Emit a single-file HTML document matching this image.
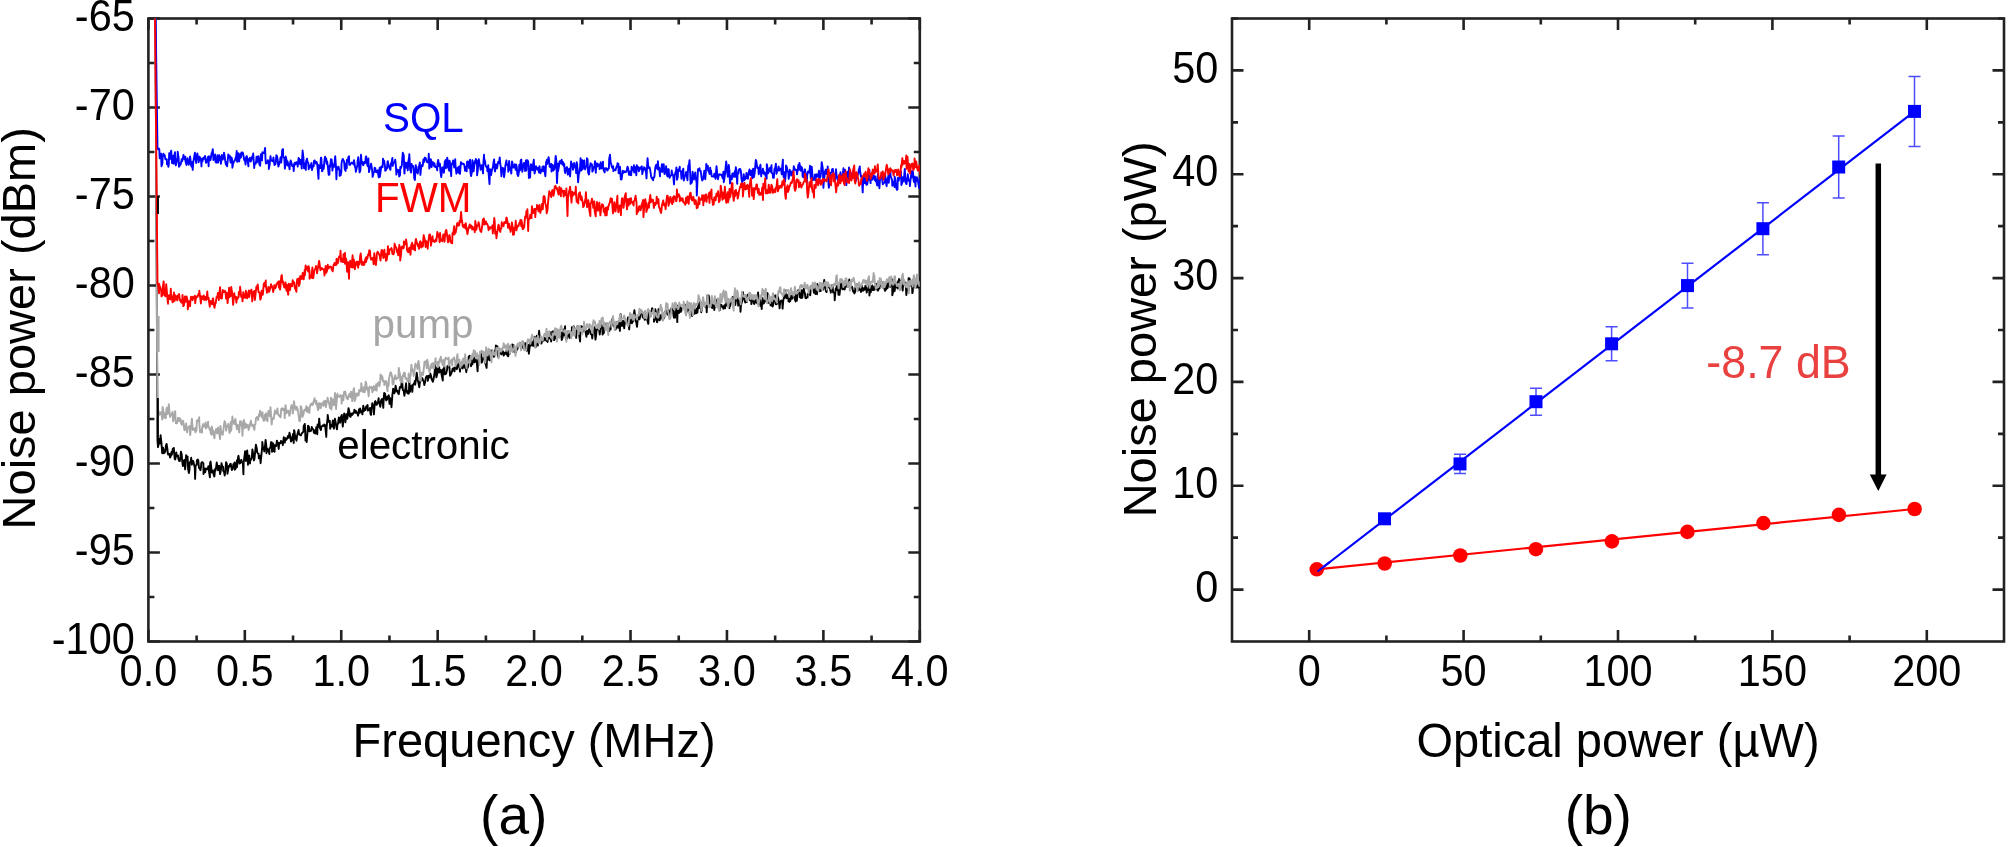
<!DOCTYPE html>
<html><head><meta charset="utf-8"><title>Noise power figure</title>
<style>html,body{margin:0;padding:0;background:#fff;}svg{display:block;filter:blur(0.45px);}text{font-family:'Liberation Sans',Arial,Helvetica,sans-serif;}</style></head>
<body><svg width="2008" height="847" viewBox="0 0 2008 847" style="font-family:'Liberation Sans',Arial,Helvetica,sans-serif">
<rect width="2008" height="847" fill="#fff"/>
<rect x="148.4" y="18.5" width="771.40" height="623.00" fill="none" stroke="#222" stroke-width="2.6"/>
<path d="M148.40 641.50v-11.5M148.40 18.50v11.5M244.82 641.50v-11.5M244.82 18.50v11.5M341.25 641.50v-11.5M341.25 18.50v11.5M437.67 641.50v-11.5M437.67 18.50v11.5M534.10 641.50v-11.5M534.10 18.50v11.5M630.52 641.50v-11.5M630.52 18.50v11.5M726.95 641.50v-11.5M726.95 18.50v11.5M823.38 641.50v-11.5M823.38 18.50v11.5M919.80 641.50v-11.5M919.80 18.50v11.5" stroke="#222" stroke-width="2.6" fill="none"/>
<path d="M196.61 641.50v-6M196.61 18.50v6M293.04 641.50v-6M293.04 18.50v6M389.46 641.50v-6M389.46 18.50v6M485.89 641.50v-6M485.89 18.50v6M582.31 641.50v-6M582.31 18.50v6M678.74 641.50v-6M678.74 18.50v6M775.16 641.50v-6M775.16 18.50v6M871.59 641.50v-6M871.59 18.50v6" stroke="#222" stroke-width="2.6" fill="none"/>
<path d="M148.40 18.50h11.5M919.80 18.50h-11.5M148.40 107.50h11.5M919.80 107.50h-11.5M148.40 196.50h11.5M919.80 196.50h-11.5M148.40 285.50h11.5M919.80 285.50h-11.5M148.40 374.50h11.5M919.80 374.50h-11.5M148.40 463.50h11.5M919.80 463.50h-11.5M148.40 552.50h11.5M919.80 552.50h-11.5M148.40 641.50h11.5M919.80 641.50h-11.5" stroke="#222" stroke-width="2.6" fill="none"/>
<path d="M148.40 63.00h6M919.80 63.00h-6M148.40 152.00h6M919.80 152.00h-6M148.40 241.00h6M919.80 241.00h-6M148.40 330.00h6M919.80 330.00h-6M148.40 419.00h6M919.80 419.00h-6M148.40 508.00h6M919.80 508.00h-6M148.40 597.00h6M919.80 597.00h-6" stroke="#222" stroke-width="2.6" fill="none"/>
<text transform="translate(134.80 30.50) scale(1 1.065)" font-size="41.5" text-anchor="end" fill="#000" >-65</text>
<text transform="translate(134.80 119.50) scale(1 1.065)" font-size="41.5" text-anchor="end" fill="#000" >-70</text>
<text transform="translate(134.80 208.50) scale(1 1.065)" font-size="41.5" text-anchor="end" fill="#000" >-75</text>
<text transform="translate(134.80 297.50) scale(1 1.065)" font-size="41.5" text-anchor="end" fill="#000" >-80</text>
<text transform="translate(134.80 386.50) scale(1 1.065)" font-size="41.5" text-anchor="end" fill="#000" >-85</text>
<text transform="translate(134.80 475.50) scale(1 1.065)" font-size="41.5" text-anchor="end" fill="#000" >-90</text>
<text transform="translate(134.80 564.50) scale(1 1.065)" font-size="41.5" text-anchor="end" fill="#000" >-95</text>
<text transform="translate(134.80 653.50) scale(1 1.065)" font-size="41.5" text-anchor="end" fill="#000" >-100</text>
<text transform="translate(148.40 685.80) scale(1 1.065)" font-size="41.5" text-anchor="middle" fill="#000" >0.0</text>
<text transform="translate(244.82 685.80) scale(1 1.065)" font-size="41.5" text-anchor="middle" fill="#000" >0.5</text>
<text transform="translate(341.25 685.80) scale(1 1.065)" font-size="41.5" text-anchor="middle" fill="#000" >1.0</text>
<text transform="translate(437.67 685.80) scale(1 1.065)" font-size="41.5" text-anchor="middle" fill="#000" >1.5</text>
<text transform="translate(534.10 685.80) scale(1 1.065)" font-size="41.5" text-anchor="middle" fill="#000" >2.0</text>
<text transform="translate(630.52 685.80) scale(1 1.065)" font-size="41.5" text-anchor="middle" fill="#000" >2.5</text>
<text transform="translate(726.95 685.80) scale(1 1.065)" font-size="41.5" text-anchor="middle" fill="#000" >3.0</text>
<text transform="translate(823.38 685.80) scale(1 1.065)" font-size="41.5" text-anchor="middle" fill="#000" >3.5</text>
<text transform="translate(919.80 685.80) scale(1 1.065)" font-size="41.5" text-anchor="middle" fill="#000" >4.0</text>
<text transform="translate(534.10 757.40) scale(1 1.02)" font-size="47" text-anchor="middle" fill="#000" >Frequency (MHz)</text>
<text x="513.70" y="834.00" font-size="55" text-anchor="middle" fill="#000" >(a)</text>
<text transform="translate(35.4,328.3) rotate(-90)" font-size="47" text-anchor="middle">Noise power (dBm)</text>
<clipPath id="clipa"><rect x="148.4" y="18.5" width="771.4" height="623.0"/></clipPath>
<path d="M155.3 -5.0 L157.5 440.7 L158.0 447.1 L158.9 442.7 L159.1 439.0 L160.0 443.6 L160.6 435.2 L160.9 439.0 L161.4 442.1 L162.2 453.3 L163.0 447.6 L163.5 449.6 L163.9 453.2 L164.7 452.6 L165.4 451.2 L165.9 445.6 L166.6 443.9 L167.4 448.9 L167.8 453.4 L168.2 454.6 L168.7 453.6 L169.4 453.9 L170.1 457.5 L170.9 455.9 L171.5 451.9 L171.8 454.9 L172.8 448.6 L173.1 452.4 L173.8 447.9 L174.1 451.9 L174.7 458.9 L175.3 459.4 L176.3 452.5 L176.8 456.4 L177.5 455.4 L178.0 455.5 L178.4 458.9 L179.1 460.8 L179.8 461.1 L180.5 456.4 L180.9 451.6 L181.7 454.3 L182.2 461.2 L182.9 466.1 L183.3 461.3 L184.0 460.9 L184.4 459.8 L185.1 469.4 L185.5 466.0 L186.1 455.1 L186.6 458.0 L187.6 456.5 L188.1 469.1 L188.9 473.0 L189.5 469.8 L189.8 462.5 L190.8 461.4 L191.2 457.8 L191.9 464.7 L192.2 460.8 L192.7 461.3 L193.3 461.1 L193.9 463.8 L194.8 468.0 L195.1 478.9 L195.6 465.9 L196.7 464.6 L196.9 460.3 L197.7 459.5 L198.3 460.4 L199.0 468.0 L199.5 468.0 L200.4 470.2 L200.9 467.9 L201.3 463.0 L202.0 462.1 L202.5 462.2 L203.4 463.4 L203.5 474.0 L204.4 469.7 L204.9 468.4 L205.2 472.3 L206.0 468.7 L207.0 468.6 L207.5 469.3 L207.6 469.2 L208.4 466.2 L208.8 470.4 L209.9 477.3 L210.1 463.1 L210.6 461.6 L211.8 472.6 L212.1 471.3 L212.6 471.8 L213.0 470.5 L213.8 475.4 L214.4 476.5 L215.1 469.0 L215.4 470.7 L216.1 467.6 L216.7 462.5 L217.5 467.0 L218.0 470.3 L218.8 466.1 L219.2 465.8 L220.1 474.1 L220.8 470.7 L220.8 470.9 L221.5 463.3 L222.3 466.4 L223.1 466.8 L223.2 471.0 L223.9 471.3 L224.7 475.6 L225.4 469.7 L226.1 462.3 L226.7 463.4 L227.3 468.8 L227.4 473.7 L228.6 467.4 L229.0 465.8 L229.3 466.6 L230.0 464.3 L230.8 463.8 L231.2 466.6 L231.9 470.1 L232.7 468.8 L233.3 464.3 L233.7 467.5 L234.5 462.4 L234.8 469.7 L235.8 468.5 L236.2 464.4 L237.0 460.3 L237.0 467.1 L238.1 457.2 L238.5 455.8 L239.2 460.9 L239.5 463.5 L240.3 463.2 L240.8 461.5 L241.3 459.8 L241.8 462.0 L242.9 463.1 L243.4 474.3 L243.7 462.1 L244.4 456.9 L245.1 451.3 L245.9 461.0 L246.1 456.2 L247.2 450.5 L247.8 458.1 L247.9 464.8 L248.8 456.3 L249.2 455.5 L250.0 463.5 L250.3 459.7 L251.1 459.6 L251.8 457.8 L252.4 449.4 L253.0 452.5 L253.7 455.6 L253.9 460.4 L254.5 458.7 L255.2 451.5 L255.9 444.7 L256.8 448.7 L257.2 452.5 L257.8 453.3 L258.6 453.7 L258.8 458.3 L259.4 456.2 L260.1 455.7 L260.6 463.2 L261.4 454.8 L262.2 446.9 L262.3 441.9 L263.1 448.8 L263.8 447.8 L264.3 451.5 L265.1 445.0 L265.6 439.9 L266.3 445.8 L266.5 453.2 L267.1 448.5 L267.6 451.3 L268.7 449.8 L269.4 454.1 L269.4 448.3 L270.5 447.6 L271.0 442.1 L271.7 442.1 L272.0 451.8 L272.8 451.2 L273.1 443.4 L273.6 446.6 L274.6 451.8 L274.8 445.3 L275.8 445.7 L276.2 446.1 L276.9 440.6 L277.7 443.2 L277.9 442.9 L278.7 449.0 L279.2 442.9 L279.7 443.2 L280.5 443.4 L280.9 440.9 L281.9 441.8 L282.4 442.2 L282.8 445.2 L283.8 437.2 L284.0 440.2 L284.8 442.6 L285.4 438.2 L285.8 438.1 L286.2 439.9 L287.3 438.3 L288.0 435.9 L288.1 437.6 L288.7 437.8 L289.5 432.6 L290.2 436.0 L291.0 441.6 L291.6 437.9 L292.2 440.3 L292.3 437.4 L293.2 433.8 L293.7 443.0 L294.1 430.1 L294.6 432.0 L295.3 438.7 L296.0 436.7 L296.5 440.7 L297.1 435.6 L297.6 433.5 L298.6 430.0 L299.1 434.2 L299.5 434.7 L300.3 435.1 L300.9 435.4 L301.6 433.7 L302.4 432.7 L302.6 432.6 L303.4 431.6 L303.7 426.2 L304.8 423.9 L305.2 431.4 L305.5 440.6 L306.2 438.8 L306.7 442.1 L307.3 434.6 L308.0 425.7 L308.9 426.4 L309.3 431.2 L309.8 431.3 L310.5 430.4 L311.0 430.7 L311.8 426.9 L312.0 428.2 L312.8 428.7 L313.4 429.6 L313.9 432.8 L314.8 430.6 L315.1 433.5 L315.8 433.3 L316.2 427.2 L317.3 434.2 L317.6 424.5 L318.4 425.2 L318.7 426.7 L319.2 418.6 L320.0 428.0 L320.9 430.0 L321.5 426.5 L321.8 426.5 L322.7 425.4 L322.8 425.4 L323.7 426.0 L324.2 424.5 L324.9 425.0 L325.3 427.2 L326.3 436.9 L326.6 427.1 L327.6 417.8 L327.7 414.9 L328.5 420.7 L329.1 422.2 L329.8 420.9 L330.2 428.7 L330.9 425.0 L331.2 426.2 L332.0 426.6 L332.8 420.5 L333.1 421.6 L333.9 428.7 L334.3 423.1 L334.9 418.8 L335.5 421.4 L336.5 427.7 L337.0 429.4 L337.4 424.9 L338.0 423.8 L338.8 417.5 L339.4 419.4 L340.1 422.7 L340.8 417.0 L341.1 417.0 L341.8 414.9 L342.3 421.9 L342.8 426.6 L343.5 417.8 L344.2 413.4 L344.7 414.2 L345.4 422.3 L345.9 417.2 L346.8 413.9 L347.3 418.9 L347.5 417.4 L348.5 408.1 L349.2 410.9 L349.7 416.0 L350.0 416.5 L350.6 416.8 L351.1 413.5 L351.6 415.0 L352.5 414.8 L353.3 412.6 L353.9 412.7 L354.4 409.6 L355.1 412.8 L355.6 412.8 L355.9 410.9 L356.9 412.9 L357.2 412.6 L358.1 415.7 L358.4 413.8 L358.9 409.5 L359.8 412.9 L360.1 408.5 L361.1 411.8 L361.4 411.2 L362.3 413.5 L362.4 414.3 L363.3 405.7 L364.0 411.0 L364.3 409.3 L365.2 408.3 L365.5 410.1 L366.2 406.4 L366.8 406.3 L367.6 405.0 L367.9 410.6 L368.5 409.3 L369.5 410.0 L370.0 407.9 L370.5 413.9 L371.0 414.9 L371.8 407.5 L372.3 403.3 L372.8 405.0 L373.7 408.4 L373.9 414.4 L374.9 401.6 L375.4 401.1 L376.0 402.6 L376.6 404.9 L377.2 404.0 L377.9 402.6 L378.6 398.3 L378.8 400.7 L379.3 402.2 L380.3 406.8 L380.5 405.7 L381.1 400.3 L382.1 398.9 L382.8 403.2 L383.3 407.8 L383.7 398.7 L384.2 393.0 L385.2 394.0 L385.6 398.8 L386.2 400.4 L386.4 397.2 L387.1 399.5 L387.6 396.7 L388.7 395.2 L388.9 396.7 L389.5 403.9 L390.3 398.3 L390.7 400.9 L391.5 407.2 L392.4 394.6 L392.9 391.5 L393.1 388.8 L394.1 389.5 L394.4 393.3 L395.1 391.0 L395.6 385.6 L396.6 390.7 L396.8 391.6 L397.6 391.1 L398.2 393.6 L398.8 394.2 L399.1 391.6 L399.9 387.0 L400.8 387.4 L401.1 387.5 L401.5 383.5 L402.0 379.9 L402.8 390.0 L403.6 390.2 L403.8 391.5 L404.4 395.9 L405.4 389.0 L406.1 383.3 L406.5 390.3 L407.2 392.9 L407.6 391.2 L408.2 393.8 L408.9 393.4 L409.3 380.8 L410.1 391.6 L410.5 386.3 L411.6 385.6 L412.0 387.0 L412.3 391.9 L412.9 385.1 L413.9 383.5 L414.2 383.8 L414.8 381.0 L415.2 384.7 L416.2 377.5 L416.7 372.6 L417.5 377.9 L417.7 379.9 L418.7 384.1 L419.3 387.2 L419.9 381.8 L420.4 381.6 L420.9 377.0 L421.2 377.4 L422.2 380.1 L422.4 378.3 L423.1 380.5 L423.8 381.4 L424.3 385.1 L425.1 382.3 L425.9 377.4 L426.1 377.2 L427.1 375.9 L427.8 377.7 L427.8 380.9 L428.7 375.6 L429.4 376.9 L430.0 377.4 L430.4 373.8 L431.3 376.8 L431.6 379.2 L432.1 380.2 L432.9 381.7 L433.6 378.8 L434.3 375.0 L434.8 370.0 L435.0 363.9 L435.9 371.7 L436.4 377.3 L437.2 374.2 L437.4 367.7 L438.4 371.7 L439.1 372.6 L439.2 367.1 L439.8 371.8 L440.9 369.9 L441.5 374.1 L441.7 375.2 L442.8 380.5 L443.0 369.3 L443.7 370.7 L444.3 366.0 L444.8 374.4 L445.7 374.0 L446.2 373.4 L447.0 370.1 L447.4 366.3 L448.2 366.2 L448.5 365.7 L449.1 363.8 L449.7 370.5 L450.0 375.8 L451.1 374.0 L451.3 373.3 L452.4 370.4 L452.4 369.2 L453.4 368.1 L454.1 369.9 L454.5 371.4 L454.9 367.9 L455.9 365.9 L456.2 365.8 L456.8 369.2 L457.6 366.9 L458.4 363.3 L458.5 363.5 L459.3 365.0 L460.0 371.6 L460.4 364.5 L461.4 362.5 L461.8 365.4 L462.0 368.0 L462.7 368.4 L463.3 366.7 L464.1 364.9 L464.9 366.3 L465.1 368.2 L465.7 368.4 L466.3 372.2 L467.1 366.1 L467.7 367.7 L468.3 365.7 L468.7 356.7 L469.7 355.8 L470.1 360.5 L470.9 356.4 L471.0 366.2 L471.9 362.8 L472.4 364.3 L473.3 359.4 L473.8 361.1 L474.3 357.5 L474.7 362.3 L475.6 361.0 L476.3 359.1 L476.9 363.3 L477.6 371.3 L478.0 362.9 L478.4 362.8 L478.9 356.0 L479.9 357.2 L480.5 357.5 L481.0 353.9 L481.7 362.6 L482.1 362.0 L482.9 359.4 L483.4 358.6 L483.7 355.8 L484.6 357.4 L485.2 363.2 L485.5 363.5 L486.6 367.9 L487.1 356.6 L487.3 355.2 L487.9 359.9 L488.4 352.1 L489.6 354.2 L489.7 360.2 L490.7 360.1 L491.1 350.5 L491.4 354.0 L492.1 353.9 L492.8 355.5 L493.7 353.3 L494.0 356.9 L494.5 352.8 L495.6 349.4 L495.9 345.4 L496.2 350.0 L497.4 346.3 L497.8 353.9 L498.3 357.1 L498.7 351.0 L499.6 353.9 L499.9 351.5 L501.0 352.8 L501.5 354.4 L502.0 352.3 L502.7 351.0 L503.3 352.1 L503.7 355.6 L504.5 353.9 L504.7 352.8 L505.6 353.8 L506.3 351.7 L506.5 350.3 L507.1 354.9 L508.2 356.3 L508.7 352.4 L508.9 346.5 L509.8 353.6 L510.1 350.6 L510.7 350.7 L511.8 345.8 L512.2 344.5 L512.9 351.6 L513.2 344.9 L514.1 346.7 L514.6 349.6 L515.0 352.4 L515.7 349.9 L516.1 352.1 L517.0 346.2 L517.3 349.4 L518.1 346.3 L518.9 344.6 L519.4 344.6 L520.0 343.1 L520.3 344.2 L521.3 344.7 L521.8 348.4 L522.6 344.3 L523.2 342.1 L523.8 343.6 L524.1 348.8 L524.9 344.1 L525.1 348.3 L525.6 343.2 L526.7 350.7 L527.2 350.0 L528.0 344.6 L528.2 347.8 L528.9 353.7 L529.7 346.3 L530.2 341.8 L530.9 344.8 L531.2 345.5 L532.1 342.2 L532.7 344.7 L533.3 346.0 L533.6 340.9 L534.5 336.7 L534.8 345.1 L535.6 347.3 L536.4 341.9 L536.8 335.8 L537.4 344.0 L537.8 345.6 L538.5 337.0 L539.1 330.8 L539.8 337.2 L540.3 341.5 L540.8 342.0 L541.3 343.6 L542.4 340.7 L542.8 340.4 L543.1 340.8 L543.8 340.6 L544.6 337.7 L544.9 339.1 L545.9 340.1 L546.3 340.7 L547.0 336.8 L547.6 342.0 L547.9 337.5 L549.0 337.8 L549.5 338.6 L549.7 331.8 L550.5 335.9 L551.1 341.5 L551.6 339.6 L552.2 331.6 L552.8 331.5 L553.6 331.4 L554.1 340.1 L554.5 334.5 L555.1 338.8 L555.7 336.9 L556.6 337.0 L557.1 337.5 L557.6 333.6 L558.3 332.3 L559.0 331.2 L559.3 334.7 L559.8 336.2 L561.0 335.2 L561.1 332.5 L561.7 340.0 L562.6 337.6 L563.4 329.6 L563.5 335.4 L564.2 332.8 L565.1 326.2 L565.3 334.6 L566.0 339.1 L566.8 338.7 L567.5 334.9 L567.7 331.7 L568.4 331.4 L569.2 337.3 L569.7 337.9 L570.3 333.6 L571.2 331.2 L571.8 334.3 L571.9 327.2 L572.6 333.3 L573.2 331.8 L573.7 326.1 L574.3 332.4 L575.1 331.5 L576.0 334.2 L576.2 337.9 L576.7 328.7 L577.6 326.0 L578.0 330.8 L578.4 327.7 L579.1 334.5 L580.1 341.5 L580.3 334.0 L581.2 326.3 L581.7 329.7 L582.5 332.1 L582.9 326.8 L583.3 330.8 L583.9 327.7 L584.5 328.2 L585.1 328.0 L585.8 333.5 L586.4 336.8 L587.2 331.0 L587.7 332.2 L588.0 334.0 L588.9 328.8 L589.8 330.4 L590.4 332.3 L590.6 333.8 L591.1 334.3 L591.8 334.9 L592.3 338.5 L593.0 330.9 L594.0 332.3 L594.5 327.2 L594.9 332.6 L595.5 339.6 L596.2 334.6 L596.8 326.4 L597.4 327.1 L598.0 329.5 L598.6 325.2 L598.9 328.4 L599.8 334.5 L600.4 326.4 L600.7 323.3 L601.3 324.1 L602.2 327.1 L602.6 334.6 L603.5 331.5 L603.8 333.2 L604.6 324.5 L605.2 324.6 L605.5 327.6 L606.2 323.6 L606.8 326.5 L607.4 329.0 L607.9 325.1 L608.5 327.4 L609.3 331.0 L609.7 328.9 L610.6 329.3 L611.0 325.8 L611.7 322.1 L612.1 319.2 L613.1 321.6 L613.2 325.6 L614.4 326.4 L614.8 327.7 L615.6 329.4 L615.9 328.7 L616.4 322.6 L617.0 322.1 L618.0 327.9 L618.3 325.7 L618.8 322.1 L619.3 322.2 L619.9 330.9 L620.6 314.1 L621.3 324.5 L622.1 326.0 L622.3 322.4 L623.1 320.8 L623.5 323.2 L624.2 328.4 L624.9 321.2 L625.7 322.0 L625.9 322.8 L626.5 322.0 L627.4 322.4 L627.9 317.5 L628.3 317.5 L629.2 329.4 L630.0 315.6 L630.4 314.1 L631.2 322.9 L631.6 322.5 L632.0 323.2 L632.9 321.1 L633.3 320.8 L633.7 315.3 L634.4 310.1 L635.4 318.4 L635.8 321.6 L636.2 321.9 L637.0 326.8 L637.6 320.6 L637.9 317.9 L638.7 317.3 L639.5 319.3 L639.7 318.6 L640.5 315.2 L640.9 310.4 L641.6 313.2 L642.5 312.2 L642.8 317.6 L643.7 317.7 L644.2 317.7 L644.8 319.9 L645.1 317.6 L645.9 318.9 L646.7 313.6 L647.2 315.3 L647.4 320.4 L648.3 323.9 L648.9 312.4 L649.5 315.2 L650.0 315.9 L650.9 316.0 L651.3 311.9 L652.1 308.3 L652.8 311.0 L653.3 313.3 L653.9 311.2 L654.0 321.8 L654.6 319.9 L655.3 309.3 L656.1 313.3 L656.6 319.9 L657.1 322.3 L658.2 318.4 L658.5 309.1 L658.9 313.2 L659.7 320.4 L660.6 316.4 L661.0 315.0 L661.8 316.5 L661.9 317.8 L662.8 320.3 L663.2 316.1 L663.8 318.4 L664.5 312.9 L665.1 311.6 L665.9 313.9 L666.2 310.7 L666.9 312.7 L667.5 312.8 L668.2 315.1 L668.7 310.1 L669.0 316.3 L670.1 312.2 L670.6 312.0 L670.9 308.6 L671.7 310.2 L672.5 308.8 L673.1 309.1 L673.4 314.7 L673.9 317.7 L675.0 317.6 L675.4 308.2 L676.0 304.1 L676.4 305.3 L677.3 322.1 L677.5 312.4 L678.5 305.5 L679.1 313.0 L679.5 309.8 L680.0 305.7 L680.8 311.9 L681.2 311.0 L681.8 308.2 L682.4 308.6 L683.3 307.8 L683.5 305.2 L684.3 306.6 L684.9 304.7 L685.8 310.3 L685.9 308.7 L686.7 312.0 L687.1 306.2 L688.2 310.3 L688.3 307.6 L689.3 305.0 L689.8 315.1 L690.1 312.5 L690.8 310.0 L691.4 308.1 L692.1 316.0 L692.9 311.4 L693.3 311.3 L694.2 307.3 L694.7 313.7 L694.9 309.9 L695.5 311.9 L696.4 313.3 L696.8 308.5 L697.4 312.6 L698.4 303.9 L698.7 306.8 L699.2 307.9 L699.9 302.2 L700.5 305.0 L701.3 312.2 L701.6 310.4 L702.3 302.4 L702.7 302.6 L703.7 303.6 L704.4 303.3 L704.4 305.7 L705.5 306.9 L706.2 303.8 L706.7 312.2 L707.3 301.6 L707.5 295.1 L708.6 297.0 L708.8 295.7 L709.7 307.0 L710.3 301.5 L710.8 303.1 L711.6 306.2 L712.2 308.0 L712.5 306.1 L713.1 303.4 L713.9 306.2 L714.3 310.0 L715.1 305.2 L715.3 306.2 L716.0 304.9 L716.6 301.5 L717.2 299.4 L717.9 301.7 L718.3 301.9 L718.9 303.9 L719.6 310.3 L720.1 304.4 L720.8 304.7 L721.4 304.9 L722.4 307.3 L722.7 306.9 L723.4 308.7 L724.2 305.5 L724.5 306.7 L725.0 308.3 L725.7 304.0 L726.5 305.4 L726.8 303.3 L727.6 299.1 L728.1 299.3 L728.7 305.8 L729.4 308.2 L729.9 304.3 L730.3 306.0 L730.9 300.2 L731.4 302.5 L732.5 297.4 L733.0 296.7 L733.8 300.8 L734.0 300.9 L734.7 300.2 L735.3 305.0 L735.7 301.7 L736.5 296.9 L737.2 296.9 L737.7 299.7 L738.2 305.7 L738.7 302.3 L739.2 300.2 L740.2 304.7 L740.5 311.7 L741.0 305.1 L742.2 300.9 L742.7 297.2 L743.0 292.3 L743.7 298.0 L744.1 298.2 L745.2 302.6 L745.4 302.6 L746.3 299.6 L746.8 302.1 L747.0 298.1 L747.6 294.7 L748.5 296.8 L748.8 298.3 L750.0 300.3 L750.6 296.6 L751.0 297.7 L751.4 304.1 L751.9 298.8 L752.5 296.3 L753.3 299.5 L753.7 303.0 L754.3 304.0 L755.2 301.8 L755.9 299.7 L756.4 300.7 L757.2 303.4 L757.7 296.9 L758.1 292.4 L758.6 304.2 L759.1 297.6 L760.1 300.8 L760.5 305.9 L761.3 304.0 L761.7 309.0 L762.5 297.9 L763.0 301.9 L763.5 303.6 L764.2 302.7 L764.8 299.2 L765.0 301.4 L766.1 301.0 L766.3 300.4 L767.1 292.9 L767.7 293.5 L768.5 302.3 L768.7 302.8 L769.6 300.9 L770.3 303.1 L770.6 305.3 L771.3 298.5 L771.8 305.8 L772.7 306.5 L773.3 304.3 L773.7 302.3 L774.0 299.9 L775.2 295.3 L775.6 299.4 L775.9 304.3 L776.8 304.0 L777.3 302.0 L777.7 296.2 L778.4 299.0 L779.2 304.3 L779.6 308.4 L780.1 302.7 L780.6 301.3 L781.4 300.4 L782.2 301.9 L782.6 308.6 L783.2 300.9 L784.1 296.6 L784.6 297.9 L785.4 294.4 L785.9 290.5 L786.6 298.3 L786.9 294.6 L787.7 296.2 L788.4 296.8 L788.4 301.1 L789.3 301.9 L790.0 298.4 L790.3 301.1 L790.8 295.3 L791.7 295.2 L792.0 298.9 L792.7 293.7 L793.2 293.7 L794.2 292.6 L794.4 298.1 L795.6 301.5 L795.9 299.2 L796.4 292.7 L796.9 300.6 L797.6 292.1 L798.2 290.1 L799.1 292.7 L799.5 293.1 L799.8 297.3 L801.0 298.0 L801.6 290.1 L802.2 297.7 L802.4 297.0 L803.1 291.2 L803.8 288.7 L804.1 290.8 L804.9 293.4 L805.4 298.0 L806.3 298.2 L806.4 297.5 L807.6 297.4 L807.6 294.2 L808.8 293.3 L809.1 292.0 L809.5 290.7 L810.2 295.4 L811.2 286.0 L811.3 289.4 L812.3 289.1 L812.9 285.8 L813.2 287.8 L814.0 292.8 L814.5 291.4 L815.4 288.1 L815.5 294.0 L816.2 293.3 L817.0 294.2 L817.3 284.0 L818.0 286.8 L818.9 288.9 L819.4 291.2 L819.9 287.1 L820.7 291.1 L820.9 284.5 L821.9 283.9 L822.2 286.3 L823.2 289.6 L823.6 285.5 L824.2 279.9 L824.8 287.6 L825.5 287.6 L825.8 291.0 L826.6 292.1 L826.9 289.4 L827.8 287.1 L828.6 286.8 L829.2 287.1 L829.3 286.0 L830.3 290.0 L830.8 292.7 L831.3 285.9 L831.8 285.3 L832.5 285.1 L833.1 292.5 L834.0 292.4 L834.5 293.6 L834.7 300.2 L835.7 288.7 L836.2 288.2 L837.0 285.8 L837.2 290.1 L838.0 289.3 L838.5 294.9 L838.9 292.8 L839.5 294.8 L840.5 285.7 L840.6 288.5 L841.4 279.9 L842.1 284.3 L842.6 289.4 L843.3 288.4 L843.7 288.8 L844.7 289.5 L845.2 286.5 L845.8 286.6 L846.6 284.7 L846.7 283.0 L847.5 286.9 L847.9 286.8 L848.6 285.2 L849.3 279.5 L850.1 290.0 L850.3 286.7 L851.3 287.3 L851.8 286.6 L852.3 287.3 L853.1 291.7 L853.5 291.1 L854.4 293.4 L855.0 292.3 L855.3 287.9 L856.2 286.4 L856.7 284.1 L857.1 286.8 L857.8 290.5 L858.5 290.1 L859.2 285.9 L859.7 288.5 L860.4 290.3 L860.6 289.2 L861.0 292.0 L861.7 285.4 L862.4 290.4 L862.9 290.8 L863.7 288.1 L864.1 289.7 L864.8 289.7 L865.4 285.7 L866.3 288.1 L866.7 292.6 L867.1 290.5 L868.1 289.7 L868.8 286.2 L869.2 285.6 L869.4 295.6 L870.5 286.7 L870.7 292.4 L871.7 287.0 L872.3 285.4 L872.8 289.4 L873.0 290.3 L873.8 286.9 L874.3 289.9 L875.3 288.7 L875.4 286.5 L876.3 283.8 L877.0 289.6 L877.7 289.3 L878.1 290.7 L878.5 288.3 L879.5 288.5 L879.8 284.2 L880.5 283.7 L880.8 285.7 L881.6 284.0 L882.6 282.9 L883.0 282.2 L883.6 284.9 L884.1 287.7 L884.5 289.0 L885.1 290.9 L886.2 286.1 L886.3 289.5 L887.2 282.1 L887.6 288.0 L888.4 283.6 L888.7 280.1 L889.3 285.0 L890.1 286.8 L890.6 283.4 L891.5 280.0 L892.2 279.4 L892.3 295.2 L892.9 293.1 L893.5 284.9 L894.2 291.2 L894.7 290.9 L895.6 282.2 L896.0 287.1 L896.7 286.6 L897.5 288.4 L898.1 281.2 L898.3 284.3 L899.0 279.0 L899.7 289.6 L900.3 281.4 L900.6 280.6 L901.6 282.9 L902.3 287.0 L902.7 290.6 L903.1 284.7 L904.0 283.5 L904.2 281.6 L904.8 283.4 L905.7 282.8 L906.3 295.0 L907.2 289.1 L907.4 290.8 L907.9 285.1 L908.6 278.1 L909.5 278.4 L910.0 280.6 L910.2 282.0 L910.9 282.9 L912.0 282.5 L912.3 293.1 L912.8 291.9 L913.2 279.9 L913.9 285.2 L914.4 287.1 L915.5 282.6 L916.2 285.1 L916.5 287.5 L917.3 283.7 L917.5 282.3 L918.2 287.7 L919.0 284.9 L919.6 287.4 L920.2 281.8 L920.5 276.0" fill="none" stroke="#000" stroke-width="1.9" stroke-linejoin="round" clip-path="url(#clipa)"/>
<path d="M155.3 -5.0 L157.5 416.9 L158.4 413.0 L158.5 410.7 L159.6 414.9 L159.8 413.4 L160.5 413.3 L161.3 412.0 L161.6 414.1 L162.3 419.6 L162.6 406.9 L163.7 412.5 L164.1 417.7 L164.6 416.4 L165.5 413.2 L165.8 418.2 L166.5 408.7 L166.9 407.7 L167.6 414.0 L168.1 412.8 L168.8 404.3 L169.7 414.5 L170.0 416.9 L170.7 415.7 L171.6 413.9 L172.2 412.9 L172.6 411.8 L173.1 421.3 L173.6 418.9 L174.1 417.7 L175.2 411.2 L175.5 418.3 L175.9 423.3 L176.8 423.4 L177.5 422.0 L178.0 418.0 L178.8 417.8 L178.8 419.4 L179.7 421.0 L180.3 418.7 L180.6 420.5 L181.6 424.8 L182.3 421.0 L182.8 421.6 L183.2 420.9 L184.1 428.2 L184.5 430.4 L185.1 428.8 L185.9 424.5 L186.1 423.5 L187.1 432.3 L187.6 427.4 L188.3 427.3 L188.5 427.4 L189.5 426.1 L189.7 430.0 L190.2 435.1 L191.3 424.5 L191.9 418.8 L192.5 426.6 L192.9 430.0 L193.4 429.9 L193.8 428.4 L194.8 429.0 L195.4 432.3 L196.1 427.4 L196.4 430.9 L196.9 420.6 L197.8 420.0 L198.5 421.2 L199.2 417.3 L199.3 423.7 L200.1 432.2 L200.9 431.4 L201.3 429.9 L202.0 432.7 L202.2 427.5 L203.2 423.9 L204.0 426.7 L204.5 425.9 L205.1 425.8 L205.6 422.5 L205.9 428.4 L206.9 426.8 L207.1 426.9 L208.1 421.8 L208.2 426.0 L209.3 427.6 L209.5 429.6 L210.2 428.5 L210.8 433.7 L211.6 434.8 L211.9 426.5 L212.6 433.2 L213.0 430.2 L213.8 435.5 L214.5 438.4 L214.9 432.4 L215.8 430.5 L216.2 429.0 L217.0 433.6 L217.6 432.5 L218.1 427.4 L218.9 429.3 L219.4 435.0 L220.1 439.2 L220.4 425.9 L221.1 431.2 L221.5 433.5 L222.6 434.5 L222.7 434.8 L223.4 429.7 L223.8 426.0 L224.6 421.2 L225.5 423.4 L226.0 430.6 L226.3 429.1 L227.0 426.2 L227.7 426.1 L228.4 423.9 L228.9 428.8 L229.6 433.1 L230.3 429.4 L230.8 421.9 L231.2 430.7 L231.9 423.9 L232.4 416.5 L232.9 421.3 L233.5 420.6 L234.2 424.1 L234.8 420.7 L235.4 418.9 L236.1 425.1 L237.0 429.4 L237.5 424.7 L238.1 426.0 L238.7 428.2 L239.2 432.5 L240.0 421.3 L240.4 425.6 L240.9 422.2 L241.2 421.4 L242.1 427.6 L242.5 435.8 L243.1 423.9 L243.9 420.0 L244.7 428.1 L245.0 423.0 L245.9 424.4 L246.3 427.3 L246.7 424.7 L247.8 425.1 L248.0 426.0 L248.6 430.0 L249.5 427.2 L249.7 424.4 L250.6 422.5 L250.9 420.6 L251.6 425.7 L252.1 424.5 L253.1 424.8 L253.4 427.2 L254.4 429.8 L254.8 425.1 L255.4 424.2 L255.9 418.3 L256.4 417.9 L257.0 417.0 L258.0 417.4 L258.1 420.1 L259.2 414.0 L259.7 415.8 L260.0 410.7 L260.8 413.0 L261.2 415.0 L261.8 417.0 L262.5 412.1 L262.8 417.4 L263.7 420.9 L264.6 420.2 L264.8 414.7 L265.6 414.7 L266.1 413.3 L266.5 419.8 L267.5 421.2 L267.6 417.1 L268.4 410.9 L269.4 414.9 L269.6 416.2 L270.5 407.3 L271.0 414.9 L271.7 424.5 L272.2 419.1 L272.6 419.7 L273.5 417.2 L273.6 419.1 L274.5 413.1 L275.0 410.5 L275.7 413.8 L276.1 413.5 L276.7 413.1 L277.5 408.5 L278.0 413.8 L278.9 415.6 L279.4 415.1 L280.1 416.8 L280.6 417.3 L281.2 409.2 L281.6 408.4 L282.5 408.5 L282.8 410.2 L283.2 408.6 L284.4 409.3 L284.7 418.1 L285.5 405.1 L285.9 408.1 L286.6 412.9 L286.8 413.1 L287.5 410.7 L288.4 410.6 L288.9 413.1 L289.3 415.9 L290.4 412.9 L290.5 409.8 L291.3 406.0 L291.7 405.1 L292.6 406.8 L293.0 413.5 L293.5 407.8 L294.0 401.2 L294.7 406.3 L295.3 408.3 L296.1 409.8 L296.7 406.8 L297.6 409.1 L298.2 412.7 L298.7 415.6 L299.2 420.7 L299.9 421.2 L300.6 415.5 L300.6 406.2 L301.3 407.1 L302.0 411.5 L302.5 416.9 L303.4 414.5 L303.8 412.1 L304.4 409.8 L305.0 410.6 L305.5 409.9 L306.4 406.2 L307.0 411.9 L307.6 411.5 L307.8 407.8 L308.7 411.5 L309.4 413.0 L309.7 407.5 L310.4 404.6 L310.8 404.6 L311.4 403.4 L312.1 405.0 L312.8 404.8 L313.5 401.8 L314.3 399.7 L314.6 398.3 L315.0 401.2 L316.1 404.2 L316.2 400.7 L316.9 403.8 L318.0 410.1 L318.5 408.6 L318.8 403.2 L319.3 403.5 L320.0 403.2 L320.6 408.3 L321.5 403.7 L321.9 403.8 L322.2 405.2 L323.4 401.7 L323.8 405.8 L324.1 401.1 L324.7 403.7 L325.5 400.6 L325.9 407.0 L326.8 401.2 L327.4 401.0 L327.6 397.7 L328.7 402.6 L329.3 404.3 L329.9 408.0 L330.4 405.5 L331.0 397.8 L331.3 409.5 L331.8 406.0 L332.4 399.3 L333.6 405.0 L334.0 405.3 L334.8 395.8 L335.0 392.9 L335.9 399.5 L336.0 409.1 L336.7 400.9 L337.4 393.8 L338.1 396.3 L338.7 396.6 L339.3 396.9 L339.9 396.0 L340.5 395.0 L341.4 397.5 L341.7 403.6 L342.5 395.5 L342.6 396.2 L343.4 400.2 L344.1 392.0 L344.8 391.9 L345.2 391.4 L345.8 394.5 L346.8 398.6 L347.2 396.7 L347.8 399.2 L348.0 399.1 L348.6 397.0 L349.3 393.8 L349.9 395.1 L351.0 397.6 L351.0 391.6 L351.8 393.5 L352.2 401.2 L353.2 391.9 L353.4 390.3 L354.0 388.1 L354.6 401.1 L355.4 399.4 L356.1 393.7 L356.9 393.4 L357.2 395.9 L357.8 393.5 L358.7 395.3 L359.2 389.9 L359.5 391.6 L360.5 391.0 L361.1 388.1 L361.3 383.3 L362.2 389.6 L362.5 391.9 L363.1 391.9 L363.9 387.2 L364.5 392.4 L365.1 390.4 L365.7 381.8 L366.1 382.7 L367.1 389.5 L367.4 387.6 L368.3 392.5 L368.7 396.3 L369.2 388.1 L369.7 386.6 L370.5 387.4 L371.0 388.1 L371.8 387.0 L372.3 392.2 L372.6 391.9 L373.7 387.8 L373.8 386.0 L374.9 390.0 L375.5 388.7 L376.2 384.1 L376.6 390.6 L376.9 386.7 L377.7 384.2 L378.3 382.3 L379.0 384.9 L379.4 386.2 L380.2 381.8 L380.5 374.5 L381.2 378.9 L381.9 376.0 L382.5 377.3 L382.9 381.2 L384.0 381.0 L384.4 385.1 L385.1 381.7 L385.4 381.3 L386.4 381.3 L386.9 386.5 L387.6 391.3 L387.7 383.8 L388.5 386.2 L389.0 378.5 L389.8 375.3 L390.2 372.9 L390.7 372.2 L391.5 374.2 L392.2 377.5 L392.6 384.3 L393.6 384.1 L393.8 380.3 L394.4 377.8 L395.3 375.3 L395.7 378.3 L396.2 379.3 L396.8 377.9 L397.8 378.3 L398.4 376.7 L398.8 367.9 L399.2 371.2 L400.0 374.3 L400.3 380.7 L401.0 377.2 L401.7 379.8 L402.2 382.5 L402.8 375.3 L403.8 375.9 L403.9 372.8 L404.8 372.7 L405.0 376.0 L405.7 378.7 L406.3 378.0 L407.4 381.0 L407.8 380.2 L408.5 380.1 L408.6 373.5 L409.6 382.1 L410.1 377.1 L410.6 375.6 L411.4 364.6 L411.8 367.2 L412.5 370.7 L413.0 370.0 L413.6 376.0 L414.3 371.8 L414.7 369.2 L415.4 363.8 L416.1 365.1 L416.7 366.1 L417.5 369.0 L418.0 362.6 L418.5 361.0 L419.3 366.3 L419.5 368.5 L420.1 375.7 L420.8 380.8 L421.3 372.7 L422.1 372.8 L422.7 375.1 L423.1 374.5 L424.0 367.0 L424.5 361.6 L425.1 361.9 L426.0 361.2 L426.5 366.7 L426.7 368.2 L427.3 359.8 L428.3 364.7 L428.5 368.2 L429.5 372.0 L429.8 370.5 L430.4 367.9 L431.1 364.9 L432.0 363.6 L432.0 368.0 L432.7 363.1 L433.6 363.4 L434.0 368.4 L434.6 364.9 L435.6 358.1 L435.8 363.9 L436.6 363.4 L437.4 361.9 L437.9 367.2 L438.4 366.1 L439.0 362.2 L439.7 359.3 L440.0 360.7 L440.8 356.6 L441.5 362.6 L442.1 362.8 L442.7 365.0 L443.3 359.8 L443.5 360.2 L444.2 366.5 L444.9 360.5 L445.7 357.7 L446.1 358.7 L446.6 358.3 L447.0 358.6 L447.8 359.4 L448.7 357.7 L448.8 365.7 L449.5 364.0 L450.2 362.5 L450.9 361.0 L451.4 359.7 L452.3 365.6 L452.5 360.1 L453.3 358.3 L454.1 357.5 L454.8 360.6 L455.3 361.3 L455.5 366.3 L456.5 363.2 L457.0 356.4 L457.5 354.1 L457.8 362.7 L458.5 360.7 L459.4 359.6 L459.7 361.9 L460.4 367.6 L461.0 363.2 L461.8 365.6 L462.2 362.4 L462.7 359.7 L463.4 358.4 L464.0 363.4 L464.8 360.3 L465.2 354.3 L466.0 363.7 L466.5 368.4 L467.3 361.8 L467.8 363.0 L468.2 361.5 L468.9 362.0 L469.5 359.8 L470.3 362.6 L470.5 358.4 L471.3 356.1 L471.9 358.9 L472.5 353.6 L473.2 357.1 L473.7 350.2 L474.2 353.6 L475.0 351.2 L475.4 356.1 L476.2 358.5 L476.8 356.0 L477.1 353.3 L477.8 356.1 L478.8 356.2 L479.4 364.7 L480.0 353.4 L480.0 351.6 L481.1 352.5 L481.8 350.6 L482.3 351.4 L482.8 351.7 L483.4 356.0 L484.0 351.9 L484.5 358.4 L485.3 362.7 L485.7 358.0 L486.1 347.2 L486.7 353.7 L487.7 355.5 L488.3 352.8 L488.5 348.6 L489.5 353.8 L489.8 349.7 L490.6 356.5 L491.0 358.3 L491.5 362.3 L492.1 352.4 L492.6 349.9 L493.2 354.7 L493.8 354.2 L494.5 352.5 L495.5 355.9 L495.9 353.7 L496.3 348.2 L497.1 348.0 L497.7 349.6 L498.3 347.9 L498.7 358.4 L499.5 348.2 L500.3 349.2 L500.6 351.4 L501.3 351.5 L502.2 348.1 L502.3 349.7 L503.2 346.9 L503.7 343.1 L504.5 347.7 L504.8 347.9 L505.5 347.6 L506.0 345.1 L506.9 350.8 L507.5 348.7 L508.0 343.7 L508.8 349.2 L509.2 348.8 L509.9 353.3 L510.5 350.6 L510.8 344.7 L511.8 348.7 L512.0 349.4 L512.7 351.9 L513.1 349.2 L514.1 349.1 L514.4 345.1 L515.2 350.3 L515.5 355.9 L516.2 349.3 L516.8 346.5 L517.3 345.2 L517.8 343.5 L518.9 346.7 L519.6 342.5 L519.7 345.9 L520.3 343.7 L521.0 350.3 L521.4 346.3 L522.4 340.9 L522.8 343.7 L523.5 342.5 L524.3 350.2 L524.9 350.5 L525.6 350.1 L526.2 350.1 L526.6 346.1 L527.1 343.7 L527.4 340.7 L528.1 339.3 L528.9 341.7 L529.7 342.2 L530.1 339.5 L530.4 343.9 L531.1 339.3 L532.1 334.7 L532.3 338.6 L532.9 338.4 L533.6 336.9 L534.4 338.7 L535.1 344.0 L535.3 347.6 L536.2 338.1 L536.7 342.3 L537.3 341.6 L537.9 335.8 L538.7 339.9 L538.9 343.0 L539.7 342.6 L540.1 343.2 L540.9 336.2 L541.7 340.1 L542.4 337.6 L542.7 340.6 L543.2 337.4 L543.9 335.5 L544.4 333.7 L544.9 334.8 L545.7 335.9 L546.5 328.6 L547.1 339.5 L547.8 334.6 L548.0 332.1 L548.6 336.0 L549.1 331.4 L549.9 336.0 L550.7 336.3 L550.9 337.6 L551.9 337.7 L552.4 339.3 L552.7 333.4 L553.6 335.3 L554.3 333.2 L555.0 328.3 L555.1 334.4 L556.1 334.6 L556.7 328.6 L556.9 341.6 L557.6 337.5 L558.6 329.7 L558.8 333.9 L559.4 337.9 L560.2 333.8 L560.5 327.7 L561.3 325.7 L561.8 329.5 L562.5 329.6 L563.2 331.1 L563.8 331.2 L564.3 332.2 L565.1 330.1 L565.7 333.5 L566.4 341.8 L566.7 332.5 L567.4 333.8 L567.9 333.3 L568.4 330.6 L569.2 332.4 L570.0 331.1 L570.5 331.6 L570.8 333.2 L571.3 338.4 L572.3 332.5 L572.8 331.0 L573.5 326.7 L573.7 335.1 L574.7 335.8 L575.1 330.3 L575.6 328.2 L576.2 328.9 L577.2 327.2 L577.8 325.9 L577.9 329.1 L578.6 334.4 L579.4 327.1 L579.6 326.1 L580.2 328.5 L580.8 331.0 L581.9 328.6 L582.2 334.4 L582.8 330.4 L583.7 326.3 L584.0 321.7 L584.8 330.0 L585.2 330.2 L585.8 328.9 L586.4 326.9 L586.9 324.2 L587.4 324.2 L588.5 327.8 L589.1 327.6 L589.5 324.3 L590.2 324.7 L590.9 326.1 L591.2 328.0 L592.0 332.1 L592.7 333.0 L592.8 324.1 L593.5 320.3 L594.5 322.8 L595.0 321.6 L595.3 325.7 L596.3 327.9 L596.9 328.0 L597.2 326.3 L597.8 324.1 L598.3 327.2 L599.1 329.3 L599.5 321.0 L600.3 327.0 L601.0 323.7 L601.5 318.4 L601.8 319.2 L602.8 317.5 L603.5 325.9 L603.7 322.1 L604.6 322.7 L605.3 330.0 L605.5 330.6 L606.5 327.5 L607.2 323.0 L607.6 327.8 L608.3 335.0 L608.6 323.9 L609.4 322.8 L610.2 321.5 L610.2 323.3 L611.3 324.0 L611.5 326.9 L612.5 318.4 L613.0 315.9 L613.7 322.1 L614.0 323.4 L614.7 330.1 L615.6 324.9 L615.6 321.6 L616.3 324.4 L617.4 324.1 L617.9 321.2 L618.1 321.2 L619.2 321.4 L619.4 318.1 L620.3 314.7 L620.9 321.3 L621.0 318.0 L621.6 318.5 L622.4 318.5 L623.4 318.6 L623.9 316.1 L624.2 315.6 L625.1 318.9 L625.4 321.2 L626.0 319.3 L626.5 322.8 L627.6 325.3 L628.1 325.9 L628.5 324.9 L629.0 320.4 L630.0 313.0 L630.2 317.0 L630.7 318.3 L631.5 317.6 L632.2 315.3 L632.9 314.4 L633.1 319.8 L634.2 319.3 L634.6 315.3 L634.8 316.2 L635.9 317.3 L636.6 317.0 L637.1 319.6 L637.2 315.3 L638.1 315.4 L638.8 314.2 L639.5 308.6 L639.9 313.9 L640.2 311.6 L641.4 310.1 L642.0 312.8 L642.3 312.6 L642.6 312.6 L643.7 314.1 L644.2 317.8 L645.0 317.8 L645.0 310.6 L645.9 315.6 L646.4 318.7 L646.9 315.4 L647.8 309.4 L648.2 309.1 L648.6 310.2 L649.3 310.7 L650.3 317.1 L650.8 312.6 L651.1 315.7 L652.0 313.4 L652.3 313.1 L653.2 310.7 L653.8 308.9 L654.0 317.8 L654.9 313.1 L655.6 312.9 L656.3 313.5 L656.8 316.5 L657.5 317.4 L658.1 317.7 L658.8 316.0 L659.0 314.1 L659.4 311.6 L660.1 308.1 L660.8 304.6 L661.2 309.6 L661.9 308.1 L662.7 320.4 L663.2 320.4 L663.8 315.7 L664.6 312.1 L665.3 316.8 L665.9 306.4 L666.2 303.0 L667.0 305.1 L667.7 304.0 L667.9 311.1 L668.5 313.1 L669.4 319.2 L669.8 316.4 L670.3 318.7 L671.0 313.5 L671.4 308.0 L672.3 306.1 L672.6 303.1 L673.3 305.9 L673.9 309.1 L674.6 309.8 L675.1 302.4 L675.9 303.3 L676.6 307.2 L677.0 306.9 L678.0 309.1 L678.5 308.4 L678.8 307.3 L679.2 302.5 L680.3 305.8 L680.5 305.7 L681.2 305.4 L681.9 305.1 L682.8 306.3 L683.0 309.5 L683.7 301.8 L684.4 304.6 L685.0 306.9 L685.3 313.1 L686.2 315.4 L686.7 307.2 L687.4 301.3 L687.7 303.7 L688.3 307.9 L689.4 302.9 L689.9 317.9 L690.5 310.6 L691.2 303.2 L691.8 305.1 L692.0 306.6 L692.9 315.2 L693.4 309.7 L693.9 303.0 L694.6 305.9 L695.0 308.0 L695.9 303.9 L696.2 305.0 L696.7 305.1 L697.2 304.8 L698.2 299.3 L698.5 295.1 L699.6 299.0 L699.7 299.6 L700.4 300.5 L701.4 310.8 L701.7 308.5 L702.6 303.1 L703.1 297.2 L703.3 297.5 L703.9 303.7 L704.6 307.0 L705.5 303.8 L705.8 302.1 L706.5 303.0 L707.1 304.1 L707.6 294.9 L708.5 306.0 L708.6 305.5 L709.3 307.2 L710.3 305.0 L710.8 306.1 L711.3 298.0 L711.8 295.9 L712.3 301.0 L713.1 303.4 L714.0 303.7 L714.4 298.3 L714.9 296.2 L715.8 306.4 L716.3 304.8 L717.0 307.2 L717.6 303.2 L718.0 298.3 L718.4 308.4 L719.2 310.8 L719.6 302.3 L720.5 293.9 L720.7 301.8 L721.5 302.3 L722.3 298.3 L722.7 292.5 L723.4 296.5 L723.7 290.4 L724.4 294.9 L725.4 302.5 L725.8 291.5 L726.2 292.2 L726.9 298.1 L727.7 304.2 L728.3 307.7 L728.9 299.0 L729.2 302.5 L729.7 302.5 L730.6 299.9 L731.1 299.1 L731.7 297.4 L732.1 301.0 L732.8 305.4 L733.7 310.7 L734.0 300.8 L734.9 288.2 L735.0 292.3 L736.2 298.7 L736.3 297.7 L737.1 290.5 L738.0 293.1 L738.2 297.3 L738.7 297.8 L739.8 299.4 L740.3 300.8 L740.7 304.3 L741.0 301.1 L742.0 291.7 L742.4 294.1 L742.9 295.8 L744.0 296.9 L744.4 296.2 L744.9 295.9 L745.2 294.6 L746.0 299.2 L746.9 301.0 L747.2 301.2 L747.8 297.5 L748.6 299.2 L749.0 293.5 L749.7 292.7 L750.5 293.5 L750.8 299.2 L751.5 295.8 L752.1 295.1 L752.6 295.4 L753.1 299.4 L753.7 297.4 L754.5 295.0 L755.4 298.5 L755.4 296.8 L756.5 295.1 L757.2 298.9 L757.5 300.9 L758.4 306.4 L758.8 303.1 L759.3 300.3 L759.9 296.1 L760.5 295.5 L761.2 298.5 L761.5 296.7 L762.4 288.9 L762.9 294.5 L763.6 290.4 L764.4 295.9 L764.5 299.0 L765.2 292.5 L765.8 288.7 L766.2 299.6 L767.2 303.2 L767.8 300.5 L768.6 300.6 L769.0 295.2 L769.4 300.0 L770.3 303.0 L770.4 299.5 L771.2 296.8 L772.1 300.9 L772.3 298.3 L773.0 293.1 L773.9 299.2 L774.2 298.5 L774.7 298.3 L775.7 300.2 L775.8 300.5 L776.9 302.6 L777.2 294.6 L777.7 296.7 L778.5 290.8 L779.1 292.6 L780.0 287.2 L780.5 287.6 L780.9 293.1 L781.5 293.3 L782.0 294.0 L783.0 296.2 L783.2 295.7 L784.1 289.3 L784.6 292.4 L785.3 292.2 L785.6 293.4 L786.3 291.5 L786.8 290.3 L787.7 290.5 L788.4 289.8 L788.9 295.0 L789.3 297.0 L790.1 293.4 L790.6 291.7 L791.1 288.1 L791.5 294.2 L792.1 291.6 L793.0 292.6 L793.3 295.7 L794.1 295.3 L794.9 286.7 L795.4 291.2 L796.0 291.0 L796.4 293.8 L796.9 291.5 L797.4 293.1 L798.0 291.8 L798.7 291.2 L799.5 290.3 L800.1 286.0 L800.5 285.7 L801.2 284.8 L801.9 287.5 L802.7 285.4 L803.2 286.9 L803.4 286.9 L804.3 286.8 L804.7 282.7 L805.7 287.7 L806.3 288.7 L806.7 287.0 L807.4 284.7 L808.0 287.4 L808.7 293.2 L809.0 289.5 L809.5 288.3 L810.4 286.1 L811.2 286.3 L811.3 288.9 L812.1 290.5 L812.7 282.6 L813.2 287.6 L814.1 287.8 L814.3 284.6 L815.0 282.6 L815.7 283.3 L816.6 289.6 L817.0 286.2 L817.6 290.0 L818.4 291.2 L818.5 288.5 L819.4 287.8 L819.7 282.8 L820.3 282.9 L821.2 288.8 L821.9 283.3 L822.4 289.9 L822.9 285.9 L823.7 286.0 L824.4 282.7 L825.0 284.9 L825.5 282.5 L825.9 283.6 L826.7 282.0 L826.9 289.7 L827.9 282.6 L828.2 282.7 L829.2 285.9 L829.4 286.5 L830.0 285.4 L830.6 286.6 L831.3 288.9 L831.7 287.9 L832.4 285.3 L833.3 285.2 L834.0 285.6 L834.1 283.6 L834.9 285.1 L835.5 285.2 L836.3 276.3 L836.8 275.2 L837.2 282.2 L838.1 284.6 L838.6 288.3 L838.9 284.9 L839.9 280.9 L840.3 279.0 L841.1 282.4 L841.6 280.9 L841.9 279.1 L842.9 283.1 L843.3 287.1 L843.9 284.8 L844.5 280.9 L845.2 285.2 L845.4 279.0 L846.3 278.2 L847.2 283.2 L847.3 283.6 L847.9 287.1 L848.6 284.5 L849.3 281.9 L849.8 290.7 L850.5 287.5 L851.2 282.9 L851.9 279.6 L852.0 280.4 L852.8 280.9 L853.6 277.6 L853.8 278.8 L855.0 284.5 L855.4 286.9 L855.9 283.9 L856.5 286.0 L856.9 289.6 L857.4 291.4 L858.4 284.0 L859.2 282.3 L859.7 286.5 L859.8 284.7 L860.4 287.6 L861.3 285.3 L861.9 283.5 L862.6 282.4 L863.3 280.0 L863.9 282.6 L864.6 281.7 L864.8 280.2 L865.5 282.9 L866.4 281.1 L866.8 285.4 L867.0 285.3 L868.1 278.3 L868.6 284.7 L868.9 276.3 L869.6 287.9 L870.3 284.7 L871.0 281.8 L871.4 282.0 L872.2 281.2 L872.7 282.5 L873.6 273.0 L874.1 275.9 L874.3 275.6 L874.9 283.4 L875.9 288.7 L876.4 288.5 L877.2 287.5 L877.5 285.6 L877.9 281.2 L878.4 287.0 L879.5 284.5 L879.7 278.3 L880.6 278.5 L881.1 279.9 L881.8 287.3 L882.6 287.9 L882.7 288.0 L883.5 281.6 L884.3 282.3 L884.5 287.3 L885.1 285.4 L885.7 284.3 L886.8 279.2 L887.3 281.6 L887.5 282.1 L888.0 280.5 L889.0 278.0 L889.4 277.0 L889.9 285.9 L890.5 284.0 L891.3 276.4 L891.8 283.5 L892.8 282.4 L893.1 284.9 L893.9 280.2 L894.6 276.3 L895.1 276.5 L895.5 283.0 L896.1 283.1 L896.7 285.4 L897.0 286.1 L898.2 285.0 L898.3 283.8 L899.1 285.8 L899.8 289.8 L900.5 281.7 L900.9 285.9 L901.6 278.3 L902.3 275.4 L902.8 273.8 L903.4 284.2 L904.1 281.2 L904.2 280.0 L905.1 285.9 L905.4 286.4 L906.1 284.1 L906.6 287.3 L907.7 280.8 L908.0 281.5 L908.7 293.3 L909.5 285.9 L910.0 280.8 L910.8 283.7 L911.1 284.6 L911.8 280.5 L912.5 280.9 L912.7 286.6 L913.5 277.6 L913.9 275.3 L914.7 278.4 L915.2 288.4 L916.1 284.2 L916.5 281.3 L916.9 274.5 L917.9 277.5 L918.3 284.3 L918.6 281.3 L919.4 286.1 L920.0 282.6 L920.4 282.7" fill="none" stroke="#a8a8a8" stroke-width="1.9" stroke-linejoin="round" clip-path="url(#clipa)"/>
<path d="M158.0 316V352" stroke="#a8a8a8" stroke-width="3.2" fill="none"/>
<path d="M157.9 398V441" stroke="#000" stroke-width="1.9" fill="none"/>
<path d="M155.3 -5.0 L157.5 148.7 L157.9 149.2 L158.9 148.6 L159.3 149.2 L159.7 158.3 L160.5 154.2 L161.1 153.6 L161.5 166.2 L162.4 163.5 L162.7 156.4 L163.4 153.7 L164.1 155.8 L164.7 155.1 L165.4 159.3 L166.0 159.1 L166.8 159.1 L167.0 164.3 L167.8 163.5 L168.4 166.9 L168.8 164.3 L169.2 153.1 L170.4 158.9 L170.6 152.6 L171.2 150.6 L172.1 163.2 L172.6 156.0 L173.1 155.8 L173.9 163.7 L174.0 157.3 L175.0 152.3 L175.4 159.6 L175.9 165.3 L176.8 161.5 L177.6 157.5 L177.7 151.8 L178.6 157.8 L179.0 166.7 L179.8 165.6 L180.4 163.1 L180.7 164.4 L181.7 159.3 L182.2 161.3 L182.8 158.6 L183.5 154.9 L183.9 157.9 L184.7 159.2 L185.3 156.6 L185.5 161.2 L186.5 165.0 L186.8 162.2 L187.5 158.1 L187.9 161.3 L188.8 164.7 L189.2 162.9 L190.1 156.5 L190.4 159.1 L191.1 165.4 L191.6 166.8 L192.4 161.9 L192.7 169.9 L193.3 161.8 L194.2 156.8 L194.9 152.7 L195.3 157.9 L196.2 163.0 L196.3 158.6 L197.3 153.5 L197.5 154.2 L198.6 162.4 L199.0 160.7 L199.6 156.8 L200.4 160.1 L200.9 158.3 L201.5 166.4 L201.6 161.9 L202.4 161.5 L202.9 158.3 L203.5 159.2 L204.1 157.3 L205.1 156.0 L205.3 158.0 L206.0 162.8 L206.7 161.9 L207.5 158.8 L208.2 156.6 L208.6 166.2 L208.9 156.3 L209.7 157.4 L210.4 160.2 L210.6 159.5 L211.6 153.1 L212.0 153.3 L212.8 149.3 L213.4 160.0 L214.0 157.4 L214.5 156.6 L215.1 154.4 L215.5 161.6 L216.3 162.8 L216.7 161.2 L217.5 155.1 L218.1 162.6 L218.9 157.6 L219.2 155.2 L219.6 160.0 L220.5 157.0 L220.9 163.9 L221.8 155.0 L222.2 158.0 L222.8 159.6 L223.7 156.5 L224.0 152.8 L224.6 155.6 L225.2 160.9 L225.9 164.7 L226.3 162.3 L227.1 166.4 L228.0 157.7 L228.3 154.4 L229.0 157.3 L229.8 155.8 L230.3 161.0 L230.8 162.6 L231.5 157.5 L232.1 159.6 L232.4 167.7 L233.1 163.2 L233.6 162.8 L234.2 161.0 L234.9 160.6 L235.4 158.4 L236.2 156.3 L236.7 151.0 L237.1 161.8 L237.9 160.0 L238.4 153.3 L239.2 161.5 L239.5 157.8 L240.1 154.3 L240.9 157.7 L241.4 152.4 L242.2 154.4 L242.6 152.4 L243.1 153.6 L244.2 160.0 L244.3 158.2 L244.9 160.4 L245.6 164.5 L246.2 157.0 L246.7 156.1 L247.5 159.0 L248.4 166.3 L248.5 159.5 L249.2 160.4 L250.0 157.6 L250.7 161.6 L251.4 160.1 L251.5 159.5 L252.3 156.6 L253.1 154.8 L253.2 153.5 L254.2 168.0 L254.5 164.2 L255.5 163.9 L256.2 161.1 L256.5 156.8 L256.8 162.4 L257.4 161.4 L258.2 156.3 L259.1 161.1 L259.3 164.1 L260.2 165.7 L260.6 155.7 L261.2 153.9 L262.0 160.4 L262.4 152.3 L263.0 152.9 L263.9 153.0 L264.3 152.6 L265.1 148.0 L265.5 159.2 L265.9 163.5 L266.7 162.8 L267.5 162.2 L267.9 160.2 L268.8 164.8 L268.8 169.1 L269.6 164.8 L270.5 156.1 L271.0 160.0 L271.5 160.8 L272.2 160.5 L272.9 161.3 L273.4 157.5 L273.9 161.2 L274.5 165.0 L275.2 162.4 L275.6 164.0 L276.4 155.2 L277.0 156.1 L277.7 159.8 L278.1 164.6 L278.4 166.5 L279.3 163.7 L280.1 160.5 L280.6 157.1 L281.2 162.6 L281.6 159.0 L282.2 150.0 L283.0 149.1 L283.2 157.1 L284.3 157.9 L284.9 168.6 L285.6 160.6 L285.7 156.5 L286.3 158.9 L287.3 165.6 L287.6 161.5 L288.2 164.2 L288.8 165.4 L289.6 169.4 L289.9 164.0 L290.7 160.5 L291.4 162.7 L292.0 165.4 L292.2 166.1 L293.3 165.1 L293.7 171.0 L294.3 163.6 L294.9 162.7 L295.4 164.5 L296.3 162.2 L296.5 162.5 L297.3 163.2 L297.7 166.6 L298.6 157.9 L299.3 159.5 L299.9 164.1 L300.1 160.2 L301.0 160.0 L301.7 168.5 L301.9 162.7 L302.6 150.5 L303.4 157.5 L304.0 168.2 L304.5 166.8 L305.2 163.2 L305.8 169.9 L306.2 160.8 L307.0 158.7 L307.5 162.4 L308.2 162.4 L308.7 169.3 L309.2 166.4 L309.9 165.5 L310.8 167.5 L310.9 164.3 L311.5 163.1 L312.0 170.0 L313.1 165.6 L313.8 166.0 L313.9 161.4 L314.6 160.4 L315.1 161.7 L316.0 163.6 L316.5 161.9 L317.3 164.3 L317.5 167.2 L318.5 178.8 L318.9 165.1 L319.7 166.3 L320.3 168.0 L320.9 157.7 L321.3 157.7 L322.0 171.2 L322.5 170.9 L322.9 165.4 L323.7 168.9 L324.6 159.1 L325.1 156.8 L325.2 160.9 L326.2 158.5 L326.6 163.8 L327.1 161.5 L327.7 165.5 L328.7 174.9 L329.4 174.7 L329.7 165.5 L330.2 166.9 L330.9 159.3 L331.7 159.7 L332.2 166.3 L332.4 170.6 L333.1 164.5 L334.1 166.8 L334.5 163.8 L335.2 156.3 L335.9 165.2 L336.4 179.2 L337.0 167.3 L337.5 168.5 L337.9 169.1 L338.5 166.6 L339.6 171.2 L339.6 175.8 L340.6 175.4 L341.3 172.4 L341.5 163.6 L342.0 160.8 L342.8 158.9 L343.4 160.2 L344.1 161.5 L344.7 168.8 L345.6 170.9 L345.7 163.6 L346.8 168.2 L346.8 160.0 L348.0 161.5 L348.2 157.6 L349.0 156.2 L349.2 164.8 L350.1 164.8 L350.8 163.1 L351.4 163.3 L352.1 162.4 L352.3 163.6 L353.0 163.1 L353.8 164.4 L354.0 160.2 L355.1 167.4 L355.4 167.5 L355.9 171.9 L356.5 169.0 L357.4 164.9 L357.6 160.9 L358.3 157.1 L359.0 165.0 L359.6 172.4 L360.4 170.1 L361.0 154.7 L361.7 163.6 L362.2 162.8 L362.6 162.0 L363.2 165.2 L363.7 164.3 L364.3 161.9 L365.2 163.0 L365.8 157.0 L366.2 156.4 L366.8 162.5 L367.7 166.2 L368.4 158.5 L368.5 162.3 L369.0 172.1 L370.1 167.4 L370.5 166.8 L371.1 163.7 L371.8 167.9 L372.5 173.6 L372.6 176.9 L373.8 172.0 L374.4 171.5 L374.6 167.6 L375.3 168.2 L375.8 172.0 L376.6 171.3 L376.9 172.4 L377.7 170.2 L378.5 176.3 L378.9 177.4 L379.7 167.6 L379.9 176.8 L380.9 169.2 L381.1 166.8 L381.7 166.4 L382.6 167.2 L383.0 158.7 L383.5 160.8 L384.1 160.7 L385.1 167.2 L385.2 170.7 L385.8 170.4 L387.0 168.0 L387.5 161.9 L387.8 161.2 L388.3 164.1 L389.3 167.7 L389.9 168.9 L390.4 169.8 L390.9 163.6 L391.5 162.6 L392.4 158.0 L392.7 165.9 L393.1 164.5 L393.6 162.7 L394.6 162.1 L395.2 159.6 L395.8 164.9 L396.4 174.6 L396.8 169.2 L397.4 172.0 L398.0 170.6 L398.6 169.9 L399.2 176.5 L400.1 175.0 L400.3 166.9 L400.9 168.3 L401.8 165.5 L402.2 159.9 L402.8 152.8 L403.8 155.5 L404.3 172.3 L404.5 173.6 L405.1 162.4 L405.9 165.7 L406.5 167.7 L407.0 162.8 L407.8 170.3 L408.4 161.6 L409.1 156.9 L409.3 154.1 L410.2 170.3 L410.4 169.1 L411.0 172.6 L411.6 164.0 L412.3 166.8 L413.3 166.1 L413.6 169.1 L414.3 178.6 L414.9 179.9 L415.3 173.3 L415.8 165.1 L416.5 172.2 L417.5 172.6 L417.8 173.5 L418.5 166.7 L419.0 167.0 L419.8 162.4 L420.4 174.9 L420.8 170.5 L421.5 165.1 L422.0 166.3 L422.7 166.0 L423.4 159.4 L423.9 162.3 L424.7 157.8 L425.4 159.6 L425.4 157.7 L426.2 159.3 L426.6 161.6 L427.4 162.4 L428.3 162.4 L428.8 153.8 L429.3 168.6 L429.7 166.1 L430.7 159.1 L431.2 160.8 L431.6 167.1 L432.5 162.3 L432.6 162.1 L433.3 163.1 L434.3 166.4 L434.4 163.2 L435.1 167.0 L435.9 166.8 L436.6 167.4 L437.2 170.4 L437.4 164.1 L438.2 159.9 L439.0 166.1 L439.4 165.6 L439.9 163.6 L440.4 171.0 L441.2 177.0 L442.2 169.5 L442.2 167.5 L443.1 167.5 L443.9 172.8 L444.4 165.8 L444.8 161.9 L445.6 160.1 L445.9 168.3 L446.7 167.1 L447.2 157.7 L448.1 162.4 L448.7 169.3 L449.3 170.8 L449.6 160.8 L450.5 165.6 L451.2 176.1 L451.4 166.2 L452.1 163.1 L452.5 163.9 L453.1 160.4 L454.0 165.9 L454.2 167.5 L455.2 159.3 L455.5 165.7 L456.4 173.7 L457.1 168.3 L457.8 170.0 L458.0 167.5 L458.6 172.8 L459.2 166.4 L460.0 173.8 L460.7 165.0 L460.9 162.1 L461.6 163.0 L462.0 164.0 L462.7 163.6 L463.6 163.6 L464.4 165.6 L465.0 170.5 L465.0 170.7 L465.8 166.7 L466.7 171.4 L467.1 161.7 L467.6 161.4 L468.5 163.8 L469.1 168.2 L469.3 161.9 L470.1 159.7 L470.5 172.9 L471.1 176.1 L471.9 172.1 L472.4 160.3 L473.3 165.0 L473.6 171.4 L474.1 167.2 L475.0 161.0 L475.4 163.1 L475.8 158.9 L477.0 161.3 L477.1 175.3 L477.7 171.2 L478.5 161.2 L478.8 159.1 L479.9 166.1 L480.0 164.9 L480.6 169.7 L481.8 165.2 L482.1 165.3 L483.0 173.4 L483.5 161.2 L484.0 154.7 L484.2 158.8 L485.2 161.9 L485.4 164.6 L486.0 166.6 L487.1 167.5 L487.4 171.2 L488.2 165.3 L488.7 174.7 L489.5 184.0 L490.0 169.1 L490.8 170.6 L491.1 175.1 L491.9 170.2 L492.5 168.2 L493.0 166.8 L493.5 162.5 L494.1 159.4 L494.8 170.8 L495.1 171.4 L495.9 164.4 L496.6 164.7 L497.0 168.2 L497.5 165.6 L498.1 162.0 L499.1 162.9 L499.7 157.4 L500.3 163.8 L500.8 166.9 L501.4 176.2 L501.6 172.1 L502.7 167.8 L503.1 168.2 L503.8 174.8 L504.1 177.2 L505.0 169.9 L505.3 166.2 L506.4 160.4 L506.8 164.7 L507.3 165.2 L508.0 164.6 L508.3 171.8 L509.1 161.0 L509.5 165.2 L510.2 170.1 L510.8 169.4 L511.3 173.6 L512.0 161.5 L512.4 162.4 L513.0 167.4 L513.8 167.6 L514.8 164.3 L515.2 165.5 L515.7 169.9 L516.1 164.4 L516.7 166.6 L517.4 174.3 L518.2 176.0 L518.9 172.1 L519.3 164.6 L520.1 170.2 L520.7 160.3 L521.3 159.5 L521.6 164.9 L522.3 171.7 L522.7 169.6 L523.6 163.8 L523.8 163.1 L524.7 162.9 L525.1 171.0 L525.9 160.5 L526.3 170.5 L526.8 160.2 L527.7 160.5 L528.3 162.3 L528.9 178.0 L529.3 172.5 L530.1 177.5 L530.6 165.5 L531.0 164.3 L531.8 169.9 L532.6 170.2 L533.0 164.8 L533.8 159.8 L534.5 172.5 L534.6 173.5 L535.3 169.9 L536.0 166.3 L536.8 168.4 L537.3 169.6 L537.9 169.6 L538.2 167.8 L539.0 172.5 L539.5 166.3 L540.4 173.2 L541.0 171.8 L541.4 169.9 L542.3 169.1 L542.5 166.8 L543.0 171.2 L543.8 166.2 L544.6 171.7 L545.4 176.3 L545.7 170.8 L546.1 162.3 L547.0 159.7 L547.2 164.0 L548.3 159.5 L548.6 157.2 L549.1 160.8 L549.7 166.8 L550.7 167.0 L551.3 163.9 L551.5 171.6 L552.6 164.9 L553.1 166.4 L553.4 170.6 L553.8 169.8 L554.5 168.7 L555.3 160.8 L555.7 155.9 L556.3 160.4 L557.0 183.0 L557.9 163.7 L558.0 171.6 L559.2 164.8 L559.5 161.8 L560.2 160.9 L560.7 163.2 L561.6 163.3 L561.7 159.8 L562.4 164.5 L563.1 162.2 L563.7 166.1 L564.2 164.0 L564.8 171.4 L565.3 173.1 L566.1 168.7 L566.9 167.1 L567.5 168.7 L567.8 174.6 L568.8 172.1 L569.4 168.7 L569.6 170.0 L570.1 176.4 L571.1 161.4 L571.8 166.3 L572.2 164.0 L573.0 169.9 L573.3 164.3 L573.9 166.8 L574.2 162.9 L575.0 166.6 L576.0 169.7 L576.1 173.0 L576.7 162.2 L577.2 164.7 L578.1 182.2 L578.8 174.0 L579.3 172.9 L580.1 166.4 L580.6 158.2 L581.2 170.5 L581.8 167.8 L582.3 160.2 L582.6 169.4 L583.3 164.3 L584.2 160.4 L584.5 167.9 L585.2 169.4 L586.0 166.5 L586.6 165.4 L586.9 158.2 L587.6 159.5 L588.1 172.5 L589.0 174.5 L589.6 169.1 L589.9 166.9 L590.6 163.2 L591.1 164.6 L592.0 164.5 L592.4 171.6 L593.3 169.6 L593.6 167.3 L594.4 166.7 L595.0 161.2 L595.8 172.7 L596.2 166.3 L597.0 163.3 L597.4 166.5 L597.6 163.6 L598.4 165.0 L599.2 164.5 L599.6 169.1 L600.4 166.2 L600.7 162.2 L601.6 168.5 L602.0 167.5 L603.0 161.8 L603.0 166.3 L603.8 170.5 L604.7 172.4 L605.0 168.1 L605.7 168.9 L606.2 168.2 L606.7 168.7 L607.4 170.6 L608.3 168.4 L608.9 168.4 L609.2 158.9 L610.0 154.8 L610.7 163.2 L611.3 164.1 L611.4 165.5 L612.1 167.8 L613.2 166.2 L613.4 171.1 L614.3 169.6 L614.8 170.0 L615.5 170.3 L615.6 169.8 L616.8 166.1 L617.3 165.1 L617.5 163.3 L618.4 163.8 L618.6 173.3 L619.7 170.9 L620.0 166.7 L620.8 179.4 L621.5 178.2 L621.6 179.5 L622.7 170.8 L622.9 172.9 L623.5 172.8 L624.3 171.3 L624.8 172.0 L625.6 171.8 L625.9 172.0 L626.8 169.8 L627.5 166.7 L628.2 168.3 L628.4 171.9 L629.0 174.8 L629.7 171.4 L630.4 174.8 L631.2 175.2 L631.6 166.8 L632.1 168.1 L632.6 170.0 L633.4 170.7 L634.0 165.1 L634.2 172.5 L635.0 169.6 L635.5 167.3 L636.3 175.2 L636.8 165.1 L637.3 167.0 L638.1 166.9 L638.8 171.3 L639.2 170.7 L640.1 167.5 L640.3 168.8 L640.8 168.3 L641.8 166.3 L642.3 174.1 L643.1 170.1 L643.8 168.7 L644.1 167.2 L644.9 168.0 L645.4 170.8 L645.9 170.4 L646.5 178.4 L647.4 159.8 L647.6 158.2 L648.3 167.9 L648.9 168.1 L649.6 167.3 L649.8 168.2 L650.8 173.7 L651.0 176.2 L651.8 178.5 L652.5 177.7 L653.1 180.3 L653.7 177.3 L654.4 177.0 L654.6 174.2 L655.4 167.0 L656.2 164.7 L656.7 167.7 L657.5 169.1 L657.9 161.2 L658.5 169.8 L659.2 167.6 L660.0 176.3 L660.0 171.7 L660.7 171.9 L661.3 169.0 L661.9 164.1 L662.4 171.9 L663.6 170.7 L663.7 164.2 L664.5 174.0 L665.3 170.7 L665.7 171.1 L666.1 166.2 L666.8 174.7 L667.5 176.4 L668.0 169.2 L668.7 169.2 L669.2 176.3 L669.6 177.9 L670.7 175.6 L671.4 175.0 L671.7 170.5 L672.1 173.0 L673.1 175.4 L673.4 177.6 L674.0 184.4 L674.6 175.5 L675.6 172.1 L676.0 171.2 L676.4 167.4 L677.0 179.7 L677.7 177.5 L678.2 169.8 L679.0 169.4 L679.8 166.8 L679.8 171.0 L680.9 171.2 L681.5 178.8 L681.7 176.9 L682.8 170.3 L683.3 168.6 L683.8 180.5 L684.1 179.2 L684.9 176.0 L685.7 174.6 L686.1 171.9 L686.4 173.7 L687.5 180.3 L687.8 173.1 L688.3 165.6 L689.0 164.7 L689.5 160.3 L690.2 174.0 L690.6 183.9 L691.8 182.4 L691.9 182.1 L692.6 171.6 L693.2 175.3 L693.9 179.5 L694.4 175.8 L695.3 172.4 L695.5 176.0 L696.6 182.6 L696.8 195.5 L697.8 173.0 L698.0 169.2 L698.4 169.8 L699.5 168.3 L699.7 170.6 L700.6 170.6 L701.3 175.0 L701.5 177.2 L702.2 180.6 L702.9 179.4 L703.7 175.8 L704.3 170.6 L704.7 175.4 L705.3 179.3 L706.1 168.2 L706.3 163.9 L707.4 168.0 L707.9 166.0 L708.1 170.5 L709.0 171.9 L709.6 174.0 L710.2 167.6 L710.4 170.5 L711.0 170.4 L711.7 176.3 L712.3 176.4 L713.1 176.7 L713.8 176.2 L714.3 173.7 L715.1 177.1 L715.5 178.9 L716.1 170.7 L716.5 166.2 L717.6 177.4 L718.0 179.2 L718.8 174.8 L719.4 174.8 L719.5 174.2 L720.4 174.8 L720.9 174.6 L721.7 174.7 L721.8 175.7 L722.8 178.3 L723.4 171.6 L723.8 182.2 L724.3 179.2 L725.2 172.9 L725.4 169.1 L726.2 161.5 L726.6 164.8 L727.4 173.7 L727.9 176.8 L728.8 165.0 L729.4 170.9 L730.0 183.5 L730.4 180.6 L731.3 175.9 L731.8 179.4 L732.3 173.7 L733.1 173.2 L733.8 176.9 L734.1 176.5 L735.0 170.9 L735.4 176.7 L735.8 167.1 L736.5 170.6 L737.2 183.8 L737.6 173.9 L738.6 173.3 L738.8 169.9 L739.6 168.9 L740.3 169.2 L740.9 171.4 L741.4 178.0 L742.0 182.1 L742.7 181.3 L743.2 179.9 L743.7 174.2 L744.5 180.0 L744.7 176.8 L745.3 179.2 L746.0 177.8 L746.5 172.9 L747.6 178.6 L747.9 178.7 L748.7 173.1 L749.1 170.9 L749.5 169.5 L750.5 175.2 L751.1 174.9 L751.3 170.8 L752.3 178.2 L752.7 172.4 L753.1 168.7 L753.8 177.4 L754.6 173.6 L754.9 170.2 L755.8 160.0 L756.3 161.0 L756.9 165.4 L757.3 168.0 L758.3 167.4 L758.7 174.2 L759.4 171.6 L760.0 167.0 L760.4 164.6 L761.2 176.3 L761.6 172.0 L762.6 173.1 L762.9 168.7 L763.3 170.4 L764.1 174.1 L764.6 172.3 L765.6 176.1 L765.8 174.4 L766.7 178.8 L766.8 164.3 L767.5 167.7 L768.2 173.3 L769.0 169.7 L769.6 168.6 L770.0 167.8 L770.6 171.9 L771.5 165.1 L771.7 173.0 L772.7 173.3 L773.0 177.8 L773.8 177.8 L774.5 169.2 L774.9 168.2 L775.3 167.5 L775.9 163.7 L776.5 173.9 L777.1 171.1 L777.9 170.3 L778.6 166.4 L779.0 170.6 L780.0 168.4 L780.6 169.8 L781.1 169.2 L781.7 174.2 L782.0 168.5 L782.9 159.6 L783.0 172.1 L783.6 177.0 L784.2 172.3 L785.0 181.5 L785.8 173.8 L786.0 165.4 L786.8 167.2 L787.6 171.8 L788.3 172.0 L788.7 178.9 L789.1 176.2 L789.7 169.8 L790.5 172.9 L791.3 175.6 L791.9 171.4 L792.4 172.1 L792.7 174.6 L793.2 172.9 L793.8 166.3 L794.6 169.0 L795.3 170.1 L795.7 169.7 L796.6 170.2 L797.0 174.4 L797.9 169.1 L798.3 165.0 L799.1 169.8 L799.4 162.9 L800.1 167.0 L800.9 170.8 L801.0 166.7 L802.2 168.2 L802.6 176.3 L803.4 177.3 L803.6 173.8 L804.3 171.5 L805.0 169.3 L805.6 173.8 L806.2 175.1 L806.9 182.6 L807.1 175.7 L808.0 171.5 L808.5 172.0 L809.3 172.5 L810.0 165.8 L810.3 170.4 L810.8 178.4 L811.7 166.6 L812.4 174.7 L812.9 180.1 L813.5 179.3 L814.2 179.5 L814.5 179.2 L815.0 174.5 L815.4 180.3 L816.3 175.5 L816.7 174.3 L817.6 176.6 L818.2 175.7 L819.0 170.8 L819.4 182.8 L819.8 176.6 L820.4 177.1 L821.1 172.4 L821.7 162.1 L822.6 167.2 L823.0 171.5 L823.4 187.7 L824.0 179.8 L824.7 174.9 L825.1 171.1 L825.9 169.5 L826.7 174.0 L827.4 173.7 L827.7 166.5 L828.3 181.1 L828.8 187.7 L829.6 184.8 L830.1 175.0 L830.8 172.6 L831.6 172.6 L832.1 169.3 L832.3 169.2 L832.9 168.9 L833.8 176.5 L834.6 180.6 L835.0 180.4 L835.7 174.0 L836.0 169.3 L836.5 175.1 L837.6 179.5 L838.1 180.7 L838.5 181.8 L839.3 174.8 L839.8 177.1 L840.5 172.3 L841.0 176.2 L841.6 178.1 L842.4 175.6 L842.7 176.3 L843.4 168.3 L844.2 171.3 L844.2 174.1 L845.0 169.7 L845.6 172.6 L846.3 185.1 L846.9 179.8 L847.8 171.8 L847.9 171.8 L848.6 179.9 L849.0 167.4 L849.7 173.7 L850.6 178.4 L850.8 173.8 L852.0 176.6 L852.5 172.3 L852.7 176.7 L853.7 177.8 L853.9 176.7 L854.7 176.3 L855.1 176.7 L855.7 181.3 L856.5 175.1 L857.3 177.1 L857.5 174.8 L858.1 174.4 L858.9 169.5 L859.8 166.4 L860.0 170.5 L860.9 176.5 L861.3 175.8 L861.9 179.2 L862.7 192.4 L862.9 186.9 L863.7 177.0 L864.0 175.2 L864.9 183.1 L865.8 178.7 L865.8 182.6 L866.5 184.9 L867.3 184.1 L868.2 177.5 L868.5 179.8 L869.4 170.0 L869.6 175.2 L870.6 183.1 L870.7 179.3 L871.7 176.1 L872.0 179.9 L872.9 178.4 L873.0 177.1 L873.8 175.6 L874.8 180.3 L875.3 176.4 L875.7 181.1 L876.2 180.7 L877.2 185.5 L877.3 182.4 L877.9 173.7 L878.4 179.6 L879.4 188.2 L880.1 177.8 L880.3 177.9 L881.3 175.7 L881.9 174.6 L882.1 179.4 L882.9 184.4 L883.5 183.2 L883.8 183.3 L885.0 181.5 L885.1 173.5 L885.7 180.6 L886.6 186.2 L887.1 179.6 L887.9 178.3 L888.4 175.7 L888.7 182.8 L889.5 174.6 L890.4 170.8 L890.6 176.6 L891.1 177.3 L892.1 180.4 L892.3 185.8 L893.0 181.6 L894.0 182.7 L894.5 187.0 L894.7 176.7 L895.3 180.2 L896.1 186.5 L896.8 189.8 L897.5 189.6 L897.7 178.0 L898.5 180.9 L899.1 178.7 L899.6 176.3 L900.4 173.7 L900.9 171.5 L901.4 185.0 L902.3 182.4 L902.6 177.2 L903.4 181.2 L904.1 176.6 L904.4 173.6 L904.8 168.9 L905.4 182.0 L906.5 184.1 L907.1 178.3 L907.6 176.8 L907.8 174.3 L908.6 180.7 L909.6 180.4 L909.9 186.1 L910.5 179.8 L911.4 173.2 L912.0 170.9 L912.2 177.3 L913.0 172.0 L913.7 180.8 L914.3 182.2 L914.9 176.7 L915.5 186.5 L915.6 182.0 L916.4 180.8 L916.9 177.2 L917.8 180.1 L918.3 183.2 L919.2 188.3 L919.3 186.4 L919.9 181.4 L920.4 176.5" fill="none" stroke="#0000ff" stroke-width="1.9" stroke-linejoin="round" clip-path="url(#clipa)"/>
<path d="M154.8 -5.0 L157.5 284.3 L158.1 284.3 L159.0 293.2 L159.0 283.7 L160.0 287.0 L160.4 287.6 L161.3 291.8 L161.5 296.4 L162.5 295.2 L162.9 286.2 L163.7 281.5 L164.1 291.7 L164.7 295.4 L165.5 296.3 L166.2 284.2 L166.4 286.3 L167.4 297.9 L168.0 303.7 L168.1 299.4 L169.0 295.2 L169.6 299.2 L170.4 299.4 L170.8 288.7 L171.1 293.9 L171.9 296.7 L172.5 302.2 L173.1 301.8 L174.0 292.5 L174.2 298.4 L174.7 300.8 L175.5 295.3 L176.2 296.9 L177.0 300.1 L177.3 300.4 L177.8 295.5 L178.8 296.5 L179.1 294.0 L179.8 300.2 L180.3 299.5 L180.7 301.4 L181.6 302.8 L182.3 299.8 L182.5 294.9 L183.3 306.1 L183.8 305.5 L184.3 302.7 L184.9 296.4 L186.0 301.7 L186.5 296.4 L186.8 297.3 L187.6 301.5 L187.8 309.4 L188.9 301.1 L189.3 303.7 L190.1 306.2 L190.4 301.2 L191.0 296.8 L191.6 297.9 L192.6 300.1 L192.9 296.8 L193.5 298.2 L194.4 298.1 L194.9 295.8 L195.2 303.2 L195.8 298.5 L196.7 296.5 L196.9 296.2 L197.6 296.8 L198.5 293.9 L199.2 294.9 L199.3 290.8 L199.8 294.4 L200.9 303.5 L201.4 298.5 L201.7 296.1 L202.5 297.8 L202.8 298.8 L203.8 295.4 L204.3 300.1 L205.0 297.5 L205.3 296.9 L206.2 300.0 L206.6 298.2 L207.3 291.5 L207.8 298.7 L208.6 297.8 L209.1 302.0 L209.8 306.8 L210.0 302.0 L210.7 301.1 L211.2 302.7 L212.0 304.3 L212.7 299.0 L213.1 298.4 L214.0 305.4 L214.5 307.9 L215.1 304.4 L215.8 302.6 L216.6 296.9 L217.0 297.1 L217.3 297.0 L217.9 292.9 L218.8 300.1 L219.2 294.3 L220.1 287.1 L220.5 294.8 L221.0 298.3 L221.8 298.5 L222.1 295.9 L222.8 290.0 L223.4 291.5 L224.0 292.1 L224.9 290.8 L225.5 292.1 L226.1 298.6 L226.6 292.6 L226.8 293.7 L227.6 303.1 L228.3 296.1 L229.1 287.8 L229.4 297.2 L230.1 293.9 L230.9 295.9 L231.2 287.0 L232.0 292.2 L232.6 297.2 L233.1 304.8 L233.8 298.2 L234.3 293.3 L234.7 297.5 L235.7 296.7 L236.4 302.7 L236.9 297.2 L237.2 299.2 L238.0 297.8 L238.7 296.9 L238.8 291.9 L239.9 294.2 L240.1 286.8 L241.2 296.7 L241.3 295.2 L242.4 298.8 L242.5 301.3 L243.3 292.2 L244.1 297.5 L244.8 296.5 L245.2 297.8 L245.9 290.8 L246.2 293.6 L247.1 298.3 L247.4 296.0 L248.4 292.2 L248.9 290.4 L249.2 297.2 L250.1 291.8 L250.2 291.9 L251.4 289.7 L251.8 292.2 L252.2 301.4 L253.0 293.6 L253.7 291.7 L254.2 290.9 L254.9 300.0 L255.2 297.4 L255.8 291.7 L256.4 286.7 L257.0 288.9 L257.7 284.4 L258.5 292.2 L259.1 291.9 L259.6 292.9 L260.3 299.6 L261.0 297.8 L261.4 293.1 L261.7 290.6 L262.6 293.7 L262.8 294.7 L263.8 283.9 L264.6 282.9 L264.9 286.2 L265.8 280.4 L265.8 284.7 L267.0 292.9 L267.1 290.3 L268.1 290.5 L268.4 286.9 L269.0 291.9 L269.5 290.6 L270.0 289.1 L271.1 284.2 L271.6 287.1 L271.9 286.0 L272.8 289.6 L273.2 292.0 L274.1 286.9 L274.3 285.3 L275.2 288.4 L275.9 287.1 L276.3 284.4 L277.0 283.3 L277.7 283.4 L278.2 281.7 L278.9 287.5 L279.1 281.1 L280.1 289.6 L280.5 285.7 L281.3 276.0 L281.8 275.1 L282.4 282.2 L283.2 281.4 L283.3 284.1 L284.3 287.5 L284.6 286.6 L285.5 282.4 L285.7 286.2 L286.5 290.7 L286.9 284.7 L287.9 292.9 L288.2 294.8 L288.9 283.6 L289.7 285.6 L290.0 290.1 L290.9 283.9 L291.3 285.7 L292.2 286.3 L292.7 280.2 L293.4 283.1 L293.8 282.9 L294.2 282.3 L294.9 288.1 L295.8 289.8 L296.4 291.8 L296.6 285.9 L297.2 279.2 L297.8 279.3 L298.6 278.5 L298.9 286.0 L299.8 282.9 L300.2 276.0 L301.1 276.8 L301.3 279.0 L302.4 275.3 L302.6 273.0 L303.0 278.5 L303.7 279.3 L304.7 269.9 L304.9 275.2 L305.6 265.5 L306.6 269.6 L306.9 268.8 L307.6 266.8 L308.1 271.5 L308.7 266.3 L309.5 271.5 L309.6 278.8 L310.4 276.6 L311.1 277.6 L311.8 273.3 L312.4 267.5 L312.6 278.2 L313.3 278.0 L313.9 273.5 L314.6 269.7 L315.5 268.5 L316.0 265.9 L316.8 269.0 L317.0 273.3 L317.7 268.8 L318.1 267.5 L319.1 260.9 L319.7 264.5 L320.4 270.2 L320.8 269.7 L321.5 268.4 L321.9 267.9 L322.7 269.2 L323.0 269.2 L323.9 269.5 L324.5 275.5 L325.0 271.3 L325.7 265.9 L326.2 272.9 L326.5 272.2 L327.0 270.8 L327.8 264.8 L328.3 268.6 L329.3 267.3 L329.7 266.9 L330.4 266.5 L331.2 267.1 L331.7 269.7 L332.3 269.9 L332.7 271.4 L333.5 265.3 L334.2 264.0 L334.5 262.9 L335.2 265.1 L336.0 264.3 L336.1 265.1 L336.6 258.6 L337.5 263.5 L338.3 261.8 L338.7 258.5 L339.1 256.5 L340.2 257.5 L340.5 250.8 L341.1 261.6 L341.4 258.2 L342.3 261.5 L343.2 262.1 L343.5 254.2 L344.3 254.2 L345.0 252.9 L345.0 263.7 L346.0 258.4 L346.3 259.6 L347.1 271.7 L347.9 269.2 L348.2 262.2 L349.0 278.8 L349.4 266.3 L350.2 260.8 L350.8 264.8 L351.3 267.3 L351.8 264.5 L352.6 255.3 L352.9 267.6 L353.6 259.1 L354.5 262.2 L354.9 269.2 L355.3 265.0 L356.2 262.6 L356.9 261.6 L357.1 264.4 L358.2 267.7 L358.2 261.6 L359.4 264.4 L359.8 260.3 L360.2 256.2 L360.7 253.4 L361.5 262.6 L362.1 264.9 L362.7 261.7 L363.3 265.0 L363.7 264.9 L364.3 264.9 L364.9 260.7 L365.9 257.5 L366.1 262.1 L367.0 256.8 L367.3 258.8 L368.2 254.1 L368.7 254.9 L369.3 250.1 L370.0 250.8 L370.4 257.0 L371.2 259.6 L371.9 259.3 L372.4 258.0 L373.0 258.4 L373.6 264.2 L374.3 253.3 L374.4 255.2 L375.6 264.1 L375.9 265.1 L376.7 258.2 L376.8 254.1 L377.6 251.7 L378.3 252.7 L378.9 254.0 L379.8 256.2 L380.0 257.7 L380.5 260.6 L381.4 250.9 L381.7 250.0 L382.7 251.1 L382.9 255.9 L383.4 258.0 L384.4 249.8 L384.7 257.0 L385.7 254.0 L385.9 260.7 L386.7 260.1 L387.4 255.4 L387.9 246.3 L388.2 250.8 L389.1 254.2 L389.5 249.4 L390.0 249.9 L391.1 248.5 L391.4 248.1 L391.8 249.0 L392.4 253.8 L393.5 254.3 L394.1 252.3 L394.6 243.8 L395.3 246.1 L395.6 246.9 L396.3 247.5 L397.0 252.0 L397.3 249.5 L398.2 255.3 L398.9 249.5 L399.3 245.0 L400.0 249.3 L400.2 260.6 L401.0 254.6 L401.6 247.0 L402.2 246.4 L403.2 248.4 L403.8 247.7 L403.8 241.5 L404.8 242.2 L405.1 244.6 L406.0 239.4 L406.8 243.8 L406.9 249.5 L407.6 251.5 L408.2 252.3 L409.0 248.1 L409.7 247.5 L409.8 250.1 L410.5 254.8 L411.2 245.3 L412.2 242.8 L412.7 248.4 L413.2 249.4 L414.0 245.2 L414.2 247.0 L415.1 250.4 L415.3 242.4 L416.0 238.9 L416.9 243.1 L417.5 244.6 L418.0 246.1 L418.3 244.2 L419.0 248.8 L420.0 241.7 L420.3 241.2 L420.6 243.4 L421.3 247.5 L422.2 242.4 L422.9 246.5 L423.3 239.4 L423.7 235.1 L424.7 239.4 L425.0 240.8 L425.6 247.0 L426.3 241.2 L426.9 243.7 L427.7 248.7 L428.1 243.2 L428.8 238.1 L429.3 234.6 L430.0 234.5 L430.7 240.8 L430.9 245.7 L431.9 239.9 L432.5 236.2 L432.8 239.3 L433.2 241.2 L434.1 240.9 L434.8 242.0 L435.1 241.2 L435.7 239.2 L436.4 241.0 L437.3 232.0 L437.8 233.5 L438.4 236.9 L439.0 234.7 L439.6 242.3 L440.1 233.0 L440.7 240.1 L441.1 240.6 L442.2 239.6 L442.3 241.3 L443.3 234.5 L443.8 234.7 L444.5 241.7 L444.9 237.1 L445.5 231.9 L446.0 230.2 L446.4 230.0 L447.4 237.9 L448.0 242.4 L448.4 237.3 L449.4 235.1 L450.0 237.1 L450.2 241.7 L450.9 241.1 L451.3 242.9 L452.2 243.3 L452.5 233.0 L453.2 233.6 L454.2 226.2 L454.3 234.5 L455.3 232.3 L455.7 232.4 L456.1 230.2 L457.1 223.5 L457.6 223.1 L458.3 225.7 L458.6 223.2 L459.2 225.4 L459.7 220.6 L460.3 222.3 L461.1 212.0 L461.6 218.9 L462.0 220.3 L462.7 225.9 L463.5 227.2 L463.8 226.0 L464.4 224.7 L465.4 228.5 L465.7 223.1 L466.4 227.3 L467.4 234.2 L467.5 234.0 L468.2 229.3 L468.7 227.9 L469.7 224.4 L470.1 227.8 L470.5 225.4 L471.5 225.7 L472.2 229.5 L472.7 227.4 L472.9 227.1 L474.0 229.7 L474.4 229.7 L474.8 232.2 L475.3 221.0 L476.1 226.1 L476.4 229.7 L477.1 225.6 L478.0 225.7 L478.6 222.2 L479.2 224.7 L479.7 229.0 L480.5 231.1 L481.1 230.2 L481.2 232.0 L482.2 226.1 L482.9 219.4 L483.4 224.4 L483.9 218.4 L484.7 224.1 L484.8 224.4 L485.9 221.4 L486.3 223.8 L487.0 223.5 L487.6 225.0 L488.1 226.2 L488.6 230.2 L489.1 227.1 L489.7 228.9 L490.2 227.2 L491.3 227.6 L492.0 228.4 L492.4 225.4 L492.8 233.5 L493.4 228.5 L494.3 218.0 L494.7 221.6 L495.2 233.7 L496.1 231.8 L496.4 238.3 L496.9 234.3 L497.6 229.6 L498.5 224.6 L499.2 227.0 L499.3 229.4 L500.3 231.9 L500.5 229.9 L501.4 227.9 L501.7 222.2 L502.3 224.4 L503.3 225.5 L503.5 226.2 L504.3 222.0 L504.8 222.7 L505.8 223.1 L506.3 217.9 L506.6 217.5 L507.6 222.5 L508.0 227.8 L508.3 223.7 L509.0 223.6 L509.9 229.6 L510.6 227.4 L510.6 231.9 L511.5 227.0 L511.9 222.4 L512.8 228.1 L513.0 234.8 L514.0 234.4 L514.5 227.8 L515.2 228.3 L515.7 220.7 L516.4 230.4 L517.1 227.4 L517.2 225.7 L518.0 226.1 L518.5 226.2 L519.3 222.9 L520.0 222.7 L520.4 219.9 L521.3 226.3 L521.4 220.2 L522.1 223.4 L522.7 229.1 L523.3 228.7 L524.2 227.0 L524.8 219.6 L525.2 216.5 L526.0 216.4 L526.4 211.1 L527.2 218.4 L527.4 209.3 L528.2 231.0 L528.6 218.9 L529.7 218.8 L530.2 214.8 L530.9 217.6 L531.5 218.1 L531.9 206.2 L532.3 208.6 L533.0 213.1 L533.8 212.6 L534.4 208.9 L535.0 212.0 L535.3 217.1 L535.9 208.8 L536.8 209.1 L537.0 205.0 L537.9 206.3 L538.5 211.4 L539.3 206.1 L539.5 205.0 L540.4 213.0 L540.8 209.4 L541.6 209.8 L541.9 204.0 L542.8 209.1 L543.5 196.7 L544.0 196.0 L544.7 197.2 L545.2 203.2 L545.7 204.8 L546.4 208.1 L546.7 213.3 L547.6 209.3 L547.9 203.8 L548.7 196.5 L549.3 191.2 L549.7 192.5 L550.3 193.3 L551.2 197.1 L551.8 191.7 L552.3 190.2 L553.0 190.1 L553.4 195.7 L554.1 192.9 L554.7 186.9 L555.5 185.8 L555.6 187.9 L556.7 188.6 L556.8 187.8 L557.6 190.8 L558.6 194.4 L558.7 194.5 L559.4 186.9 L559.9 188.7 L560.9 196.3 L561.1 188.2 L561.8 191.2 L562.4 190.6 L562.9 190.8 L563.7 196.7 L564.2 190.8 L565.2 195.0 L565.5 191.8 L566.2 191.5 L566.4 188.4 L567.5 216.0 L568.0 197.2 L568.4 196.3 L569.1 191.0 L569.4 191.0 L570.1 186.7 L571.0 195.9 L571.5 202.6 L572.3 191.7 L572.8 195.6 L573.6 193.2 L574.1 194.0 L574.3 192.6 L575.3 194.7 L575.8 186.7 L576.1 194.2 L576.7 201.9 L577.4 201.0 L578.3 203.4 L578.6 194.6 L579.3 193.0 L579.9 192.2 L580.6 198.4 L581.1 200.0 L581.4 196.2 L582.6 201.8 L582.9 203.5 L583.2 207.1 L583.9 206.0 L585.0 201.0 L585.6 198.3 L585.9 192.2 L586.4 200.5 L587.1 207.1 L587.6 202.3 L588.3 200.1 L589.0 205.3 L589.3 210.4 L590.4 216.0 L590.5 204.1 L591.1 202.7 L592.0 198.7 L592.4 200.7 L593.3 207.8 L593.5 206.2 L594.3 201.5 L594.7 211.5 L595.7 216.4 L595.9 211.6 L597.0 201.9 L597.1 202.3 L598.0 210.7 L598.5 207.5 L599.4 202.7 L599.6 206.0 L600.4 215.4 L601.1 207.8 L601.3 207.5 L602.1 204.2 L602.9 205.9 L603.2 205.2 L603.7 211.9 L604.6 208.7 L605.3 215.4 L605.9 207.7 L606.3 212.1 L606.7 215.4 L607.2 207.3 L608.0 209.6 L608.5 205.9 L609.4 203.5 L610.0 201.9 L610.6 198.3 L610.9 202.1 L612.0 198.8 L612.5 207.1 L613.0 213.4 L613.7 209.7 L614.4 202.3 L614.6 203.8 L615.5 211.5 L615.9 208.7 L616.4 205.7 L617.4 195.8 L617.5 201.7 L618.3 212.2 L619.1 206.8 L619.6 205.7 L620.0 205.4 L620.9 215.1 L621.2 208.4 L621.9 198.5 L622.5 198.3 L622.9 202.4 L623.5 207.9 L624.5 200.2 L624.7 197.0 L625.8 193.1 L626.0 198.6 L627.0 209.4 L627.4 205.9 L627.9 199.0 L628.7 205.2 L628.9 200.4 L629.7 198.7 L630.4 203.9 L631.0 198.2 L631.4 201.2 L631.8 201.6 L633.0 203.6 L633.6 205.5 L633.8 201.6 L634.7 199.8 L634.9 199.1 L635.6 195.8 L636.6 203.6 L636.7 214.2 L637.6 210.4 L638.2 211.7 L638.9 206.5 L639.6 206.2 L639.7 209.7 L640.6 210.2 L641.2 207.9 L641.7 204.2 L642.2 203.6 L643.1 200.0 L643.4 217.1 L644.2 207.8 L644.6 202.5 L645.3 199.2 L646.2 204.4 L646.3 212.1 L647.3 208.7 L647.4 208.9 L648.6 202.6 L649.0 207.5 L649.4 201.7 L650.3 195.0 L650.9 202.3 L651.6 199.5 L652.0 200.5 L652.7 200.7 L653.0 199.8 L653.9 208.0 L654.5 203.0 L654.9 204.5 L655.4 205.1 L656.4 201.5 L656.7 196.6 L657.5 203.3 L657.6 200.0 L658.4 199.1 L658.9 206.3 L659.9 208.9 L660.2 210.7 L661.1 212.9 L661.4 210.8 L662.0 205.0 L662.6 202.9 L663.2 200.4 L664.0 205.3 L664.5 203.6 L665.4 207.3 L665.6 209.1 L666.1 203.6 L667.1 195.6 L667.8 196.0 L668.1 200.3 L668.5 205.7 L669.3 202.3 L669.7 198.2 L670.4 196.9 L671.1 200.2 L671.4 202.5 L672.3 204.1 L672.9 197.4 L673.4 202.1 L673.9 196.1 L674.8 196.6 L675.4 198.3 L676.2 201.2 L676.6 200.5 L676.9 189.5 L677.5 197.2 L678.0 196.5 L678.7 194.1 L679.7 196.3 L679.8 201.3 L680.7 197.9 L681.1 198.8 L682.0 200.6 L682.7 198.3 L683.1 201.8 L683.8 202.8 L684.0 202.6 L684.7 202.6 L685.2 204.8 L686.0 197.7 L686.4 203.1 L687.5 196.4 L688.1 200.1 L688.7 203.9 L689.0 199.8 L689.7 194.8 L690.4 192.6 L690.7 192.9 L691.4 199.3 L692.2 200.4 L692.7 199.8 L693.2 196.6 L693.7 198.4 L694.7 204.0 L695.0 200.2 L695.7 200.1 L696.3 203.5 L696.7 208.2 L697.7 207.4 L698.0 205.4 L698.9 197.2 L699.4 204.1 L699.7 199.4 L700.2 200.1 L701.1 198.5 L701.9 199.8 L702.1 195.3 L703.1 199.6 L703.3 205.2 L704.0 195.2 L704.5 201.1 L705.1 196.9 L706.0 194.4 L706.6 201.9 L706.8 198.7 L707.9 196.9 L708.3 196.3 L708.9 193.3 L709.5 202.9 L709.9 192.2 L711.0 192.5 L711.5 189.4 L711.7 198.7 L712.4 199.8 L712.9 204.9 L713.7 204.3 L714.3 197.4 L715.2 197.2 L715.6 200.5 L716.4 193.8 L716.9 196.0 L717.1 195.3 L718.1 191.2 L718.6 196.6 L718.9 202.1 L719.7 200.7 L720.4 194.0 L720.7 185.6 L721.7 193.0 L722.4 199.7 L723.0 197.8 L723.0 192.4 L723.8 198.5 L724.3 195.9 L724.9 186.7 L725.8 199.1 L726.3 202.9 L727.0 196.5 L727.7 192.3 L728.1 202.3 L728.9 198.0 L729.5 188.9 L730.2 196.3 L730.2 197.2 L731.0 191.9 L732.0 182.9 L732.5 183.6 L732.7 192.0 L733.7 200.9 L734.4 195.4 L734.9 190.6 L735.1 196.1 L736.0 190.0 L736.2 194.3 L737.1 192.6 L737.7 198.6 L738.5 195.3 L738.8 192.0 L739.5 189.2 L740.0 186.9 L740.5 187.0 L741.2 183.4 L742.0 187.6 L742.6 183.6 L742.9 196.5 L743.4 191.3 L744.5 182.8 L745.0 189.1 L745.3 189.4 L746.2 185.9 L746.5 189.0 L747.4 184.8 L748.1 186.2 L748.4 187.2 L749.3 196.9 L749.4 186.5 L750.1 182.7 L750.8 178.1 L751.5 187.2 L752.1 195.7 L752.9 190.7 L753.2 188.2 L753.7 199.1 L754.7 188.1 L755.2 189.4 L755.8 189.2 L756.3 184.8 L756.9 184.4 L757.7 191.3 L757.9 193.0 L758.7 188.8 L759.2 194.7 L759.9 192.6 L760.4 194.7 L761.0 194.6 L761.6 193.9 L762.2 187.5 L763.0 200.0 L763.3 183.6 L764.0 186.8 L764.4 188.6 L765.2 178.3 L765.7 193.2 L766.6 189.9 L766.9 193.4 L768.0 193.0 L768.4 189.1 L768.7 184.6 L769.8 192.8 L770.3 192.6 L770.5 192.6 L771.4 184.7 L772.1 187.0 L772.2 186.1 L772.9 192.8 L773.5 191.2 L774.4 189.3 L775.0 192.2 L775.3 192.0 L775.9 187.4 L776.5 187.4 L777.3 179.1 L777.8 191.4 L778.5 189.6 L779.4 186.3 L779.7 188.0 L780.2 185.6 L780.8 185.6 L781.6 187.5 L782.4 181.3 L782.7 185.2 L783.5 184.3 L784.0 179.3 L784.6 182.4 L785.2 194.5 L785.8 198.9 L786.3 189.4 L786.7 188.5 L787.6 185.3 L787.9 192.0 L788.9 189.3 L789.2 186.7 L790.0 186.0 L790.6 183.3 L791.0 182.5 L791.8 183.0 L792.6 179.4 L792.9 179.7 L793.5 171.4 L794.1 178.0 L794.4 187.3 L795.1 190.7 L796.1 187.5 L796.3 180.7 L797.0 179.2 L798.0 182.1 L798.6 180.1 L798.9 187.3 L799.3 184.4 L800.3 182.5 L801.0 186.3 L801.3 187.6 L802.1 185.1 L802.4 185.0 L803.3 183.7 L803.4 182.5 L804.6 180.8 L804.9 173.6 L805.5 175.5 L806.2 182.0 L806.7 180.0 L807.2 191.7 L807.8 197.6 L808.5 192.3 L809.4 182.3 L809.9 186.2 L810.1 186.8 L811.0 180.8 L811.7 178.1 L811.9 187.8 L812.7 192.0 L813.3 190.2 L814.0 197.5 L814.3 184.9 L815.1 186.8 L815.7 187.9 L816.5 179.1 L817.0 180.7 L817.7 179.7 L818.1 185.3 L818.8 178.6 L819.1 181.8 L820.0 180.3 L820.8 184.9 L821.3 181.6 L821.8 180.2 L822.3 183.5 L823.2 178.9 L823.6 179.0 L824.4 180.7 L824.5 180.2 L825.4 179.6 L825.8 179.8 L826.3 181.4 L827.0 179.5 L827.8 173.9 L828.1 170.0 L828.6 169.4 L829.6 177.2 L830.1 182.8 L830.7 181.3 L831.1 185.2 L831.6 175.0 L832.4 175.8 L833.3 173.1 L833.6 181.3 L834.3 174.6 L834.8 181.2 L835.3 183.6 L836.2 192.3 L836.5 188.4 L837.3 183.4 L837.8 181.1 L838.3 185.5 L838.8 177.4 L839.5 174.6 L840.4 183.3 L840.9 179.2 L841.6 176.1 L842.2 180.8 L843.0 178.4 L843.3 174.0 L843.9 183.3 L844.7 185.0 L844.8 177.6 L845.7 171.3 L846.2 177.5 L847.0 178.4 L847.2 182.3 L848.0 181.7 L849.0 180.7 L849.1 183.0 L850.1 169.4 L850.7 173.1 L850.9 177.7 L851.4 180.5 L852.4 177.0 L852.6 177.9 L853.2 169.7 L854.3 165.5 L854.6 180.6 L855.3 183.6 L855.7 175.9 L856.4 172.1 L857.4 174.1 L857.7 177.1 L858.3 179.2 L858.8 183.7 L859.2 185.8 L860.2 182.9 L861.0 183.9 L861.1 179.1 L862.0 179.5 L862.5 176.3 L863.2 176.1 L863.7 175.0 L864.4 173.5 L864.9 176.6 L865.6 171.8 L866.0 175.0 L866.9 180.7 L867.6 177.8 L867.9 171.9 L868.4 168.2 L868.9 170.3 L869.8 174.6 L870.5 174.1 L870.6 179.0 L871.5 173.3 L871.9 176.2 L872.7 169.5 L873.1 169.8 L873.7 173.9 L874.6 173.4 L874.9 166.2 L875.5 172.0 L876.3 169.9 L877.0 171.4 L877.7 164.4 L878.2 170.9 L878.7 178.5 L879.5 178.8 L880.2 178.0 L880.7 177.9 L881.3 172.4 L881.6 172.5 L882.3 174.3 L882.8 171.5 L883.4 179.7 L884.0 173.7 L884.4 177.3 L885.3 173.7 L886.0 169.0 L886.7 164.8 L887.1 166.0 L887.5 168.7 L888.3 174.6 L888.9 171.6 L889.3 169.3 L890.3 172.3 L890.5 168.3 L891.2 170.2 L892.2 170.2 L892.6 171.3 L893.3 173.2 L893.6 175.6 L894.4 170.1 L894.8 172.1 L895.5 170.1 L896.1 169.7 L896.9 173.5 L897.1 175.3 L898.2 172.4 L898.2 169.4 L899.3 174.4 L899.5 176.2 L900.1 176.3 L901.1 165.3 L901.5 166.8 L902.3 158.1 L902.6 164.8 L903.1 161.9 L903.8 160.8 L904.5 163.7 L905.4 161.1 L905.6 162.7 L906.3 155.5 L906.6 168.8 L907.5 156.7 L908.0 164.1 L908.6 171.5 L909.4 163.9 L910.1 173.5 L910.3 171.5 L911.0 166.2 L911.7 163.9 L912.5 163.5 L912.9 168.0 L913.3 170.1 L914.4 167.8 L914.6 158.5 L915.4 167.1 L916.1 166.9 L916.2 161.5 L917.2 168.4 L917.9 170.7 L918.4 169.4 L919.0 166.0 L919.3 167.3 L920.4 174.5 L920.4 163.3" fill="none" stroke="#ff0000" stroke-width="1.9" stroke-linejoin="round" clip-path="url(#clipa)"/>
<path d="M158.0 196V214" stroke="#000" stroke-width="1.9" fill="none"/>
<text transform="translate(382.98 132.20) scale(1 1.045)" font-size="40.4" text-anchor="start" fill="#0000ff" >SQL</text>
<text transform="translate(375.09 211.60) scale(1 1.045)" font-size="40.4" text-anchor="start" fill="#ff0000" >FWM</text>
<text x="372.62" y="338.00" font-size="40.3" text-anchor="start" fill="#a6a6a6" >pump</text>
<text x="337.31" y="459.00" font-size="40.3" text-anchor="start" fill="#000" >electronic</text>
<rect x="1232.0" y="18.5" width="772.00" height="623.00" fill="none" stroke="#222" stroke-width="2.6"/>
<path d="M1309.20 641.50v-11.5M1309.20 18.50v11.5M1463.60 641.50v-11.5M1463.60 18.50v11.5M1618.00 641.50v-11.5M1618.00 18.50v11.5M1772.40 641.50v-11.5M1772.40 18.50v11.5M1926.80 641.50v-11.5M1926.80 18.50v11.5" stroke="#222" stroke-width="2.6" fill="none"/>
<path d="M1386.40 641.50v-6M1386.40 18.50v6M1540.80 641.50v-6M1540.80 18.50v6M1695.20 641.50v-6M1695.20 18.50v6M1849.60 641.50v-6M1849.60 18.50v6" stroke="#222" stroke-width="2.6" fill="none"/>
<path d="M1232.00 589.58h11.5M2004.00 589.58h-11.5M1232.00 485.75h11.5M2004.00 485.75h-11.5M1232.00 381.92h11.5M2004.00 381.92h-11.5M1232.00 278.08h11.5M2004.00 278.08h-11.5M1232.00 174.25h11.5M2004.00 174.25h-11.5M1232.00 70.42h11.5M2004.00 70.42h-11.5" stroke="#222" stroke-width="2.6" fill="none"/>
<path d="M1232.00 537.67h6M2004.00 537.67h-6M1232.00 433.83h6M2004.00 433.83h-6M1232.00 330.00h6M2004.00 330.00h-6M1232.00 226.17h6M2004.00 226.17h-6M1232.00 122.33h6M2004.00 122.33h-6M1232.00 18.50h6M2004.00 18.50h-6" stroke="#222" stroke-width="2.6" fill="none"/>
<text transform="translate(1218.30 601.78) scale(1 1.065)" font-size="41.5" text-anchor="end" fill="#000" >0</text>
<text transform="translate(1218.30 497.95) scale(1 1.065)" font-size="41.5" text-anchor="end" fill="#000" >10</text>
<text transform="translate(1218.30 394.12) scale(1 1.065)" font-size="41.5" text-anchor="end" fill="#000" >20</text>
<text transform="translate(1218.30 290.28) scale(1 1.065)" font-size="41.5" text-anchor="end" fill="#000" >30</text>
<text transform="translate(1218.30 186.45) scale(1 1.065)" font-size="41.5" text-anchor="end" fill="#000" >40</text>
<text transform="translate(1218.30 82.62) scale(1 1.065)" font-size="41.5" text-anchor="end" fill="#000" >50</text>
<text transform="translate(1309.20 685.80) scale(1 1.065)" font-size="41.5" text-anchor="middle" fill="#000" >0</text>
<text transform="translate(1463.60 685.80) scale(1 1.065)" font-size="41.5" text-anchor="middle" fill="#000" >50</text>
<text transform="translate(1618.00 685.80) scale(1 1.065)" font-size="41.5" text-anchor="middle" fill="#000" >100</text>
<text transform="translate(1772.40 685.80) scale(1 1.065)" font-size="41.5" text-anchor="middle" fill="#000" >150</text>
<text transform="translate(1926.80 685.80) scale(1 1.065)" font-size="41.5" text-anchor="middle" fill="#000" >200</text>
<text transform="translate(1618.00 757.40) scale(1 1.02)" font-size="47" text-anchor="middle" fill="#000" >Optical power (µW)</text>
<text x="1598.30" y="834.00" font-size="55" text-anchor="middle" fill="#000" >(b)</text>
<text transform="translate(1156,329.3) rotate(-90)" font-size="47" text-anchor="middle">Noise power (pW)</text>
<line x1="1317.5" y1="571.5" x2="1914.5" y2="111.4" stroke="#0000ff" stroke-width="2.2"/>
<path d="M1460.0 454.3V473.5M1454.0 454.3h12M1454.0 473.5h12" stroke="#4d4dff" stroke-width="1.5" fill="none"/>
<path d="M1536.0 388.2V415.2M1530.0 388.2h12M1530.0 415.2h12" stroke="#4d4dff" stroke-width="1.5" fill="none"/>
<path d="M1611.6 326.8V360.8M1605.6 326.8h12M1605.6 360.8h12" stroke="#4d4dff" stroke-width="1.5" fill="none"/>
<path d="M1687.5 263.3V307.9M1681.5 263.3h12M1681.5 307.9h12" stroke="#4d4dff" stroke-width="1.5" fill="none"/>
<path d="M1762.9 202.7V254.7M1756.9 202.7h12M1756.9 254.7h12" stroke="#4d4dff" stroke-width="1.5" fill="none"/>
<path d="M1838.7 136.0V198.0M1832.7 136.0h12M1832.7 198.0h12" stroke="#4d4dff" stroke-width="1.5" fill="none"/>
<path d="M1914.5 76.4V146.4M1908.5 76.4h12M1908.5 146.4h12" stroke="#4d4dff" stroke-width="1.5" fill="none"/>
<rect x="1378.0" y="512.3" width="13" height="13" fill="#0000ff"/>
<rect x="1453.5" y="457.4" width="13" height="13" fill="#0000ff"/>
<rect x="1529.5" y="395.2" width="13" height="13" fill="#0000ff"/>
<rect x="1605.1" y="337.3" width="13" height="13" fill="#0000ff"/>
<rect x="1681.0" y="279.1" width="13" height="13" fill="#0000ff"/>
<rect x="1756.4" y="222.2" width="13" height="13" fill="#0000ff"/>
<rect x="1832.2" y="160.5" width="13" height="13" fill="#0000ff"/>
<rect x="1908.0" y="104.9" width="13" height="13" fill="#0000ff"/>
<line x1="1316.8" y1="569.3" x2="1914.6" y2="509.0" stroke="#ff0000" stroke-width="2.2"/>
<circle cx="1316.8" cy="569.3" r="7.3" fill="#ff0000"/>
<circle cx="1384.7" cy="563.5" r="7.3" fill="#ff0000"/>
<circle cx="1460.3" cy="555.5" r="7.3" fill="#ff0000"/>
<circle cx="1535.9" cy="549.2" r="7.3" fill="#ff0000"/>
<circle cx="1611.9" cy="541.4" r="7.3" fill="#ff0000"/>
<circle cx="1687.4" cy="531.9" r="7.3" fill="#ff0000"/>
<circle cx="1763.4" cy="523.1" r="7.3" fill="#ff0000"/>
<circle cx="1838.9" cy="514.9" r="7.3" fill="#ff0000"/>
<circle cx="1914.6" cy="509.0" r="7.3" fill="#ff0000"/>
<line x1="1317.5" y1="571.5" x2="1330" y2="561.9" stroke="#0000ff" stroke-width="2.2"/>
<path d="M1878.3 163.5V477" stroke="#000" stroke-width="5.5" fill="none"/>
<path d="M1869.8 474.5L1886.6 474.5L1878.3 491Z" fill="#000"/>
<text transform="translate(1706.33 377.50) scale(1 1.03)" font-size="44.8" text-anchor="start" fill="#e8413f" >-8.7 dB</text>
</svg></body></html>
